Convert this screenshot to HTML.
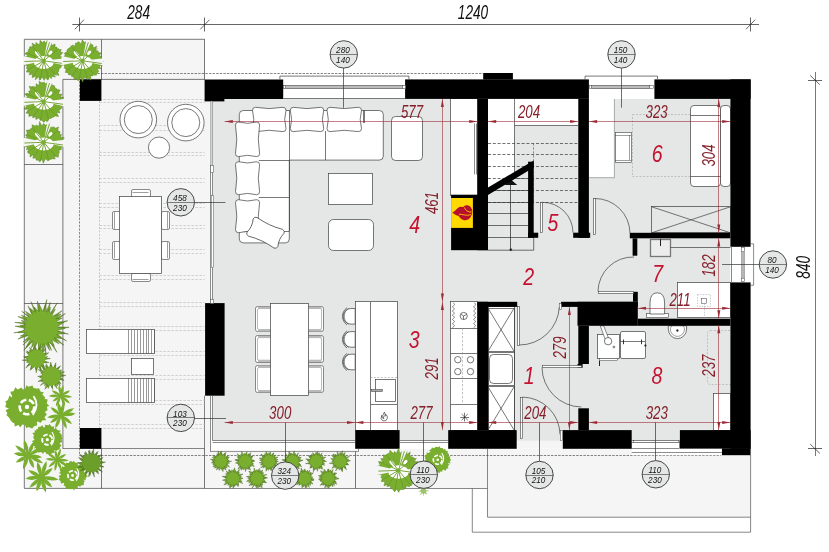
<!DOCTYPE html><html><head><meta charset="utf-8"><title>plan</title><style>html,body{margin:0;padding:0;background:#fff}svg{display:block;will-change:transform}</style></head><body><svg width="829" height="552" viewBox="0 0 829 552" font-family="'Liberation Sans', Arial, sans-serif">
<rect x="0.0" y="0.0" width="829.0" height="552.0" fill="#fff" />
<rect x="24.3" y="39.3" width="180.6" height="449.1" fill="#f5f5f5" />
<path d="M204.9 39.3 H24.3 V488.4 H204.9" fill="none" stroke="#404040" stroke-width="0.7" />
<rect x="204.9" y="448.8" width="282.6" height="39.6" fill="#f5f5f5" />
<path d="M487.5 448.8 H750.6 V517.2 H487.5 Z" fill="#f5f5f5" stroke="none" stroke-width="0.7" />
<rect x="516.7" y="439.4" width="46.1" height="9.4" fill="#f5f5f5" />
<path d="M472.3 488.4 V532.2 H750.6 V455" fill="none" stroke="#555" stroke-width="0.7" />
<path d="M487.5 448.8 V517.2 H750.6" fill="none" stroke="#555" stroke-width="0.7" />
<line x1="204.9" y1="488.5" x2="487.5" y2="488.5" stroke="#555" stroke-width="0.7"/>
<line x1="101.5" y1="39.3" x2="101.5" y2="79.4" stroke="#404040" stroke-width="0.7"/>
<path d="M62.9 448.8 V79.4 H204.9" fill="none" stroke="#404040" stroke-width="0.7" />
<line x1="24.3" y1="164.5" x2="62.9" y2="164.5" stroke="#404040" stroke-width="0.7"/>
<line x1="24.3" y1="303.5" x2="62.9" y2="303.5" stroke="#404040" stroke-width="0.7"/>
<line x1="62.9" y1="448.5" x2="204.9" y2="448.5" stroke="#555" stroke-width="0.7"/>
<line x1="101.5" y1="448.8" x2="101.5" y2="488.4" stroke="#404040" stroke-width="0.7"/>
<line x1="204.5" y1="39.3" x2="204.5" y2="79.4" stroke="#404040" stroke-width="0.7"/>
<line x1="204.5" y1="395.7" x2="204.5" y2="488.4" stroke="#404040" stroke-width="0.7"/>
<line x1="355.5" y1="448.8" x2="355.5" y2="488.4" stroke="#404040" stroke-width="0.7"/>
<line x1="79.4" y1="73.5" x2="483.0" y2="73.5" stroke="#333" stroke-width="0.6" stroke-dasharray="2.4 1.2"/>
<line x1="79.5" y1="73.6" x2="79.5" y2="455.4" stroke="#444" stroke-width="0.6" stroke-dasharray="2.4 1.2"/>
<line x1="79.4" y1="455.5" x2="721.0" y2="455.5" stroke="#333" stroke-width="0.6" stroke-dasharray="2.4 1.2"/>
<line x1="99.5" y1="100.9" x2="99.5" y2="428.0" stroke="#999" stroke-width="0.5" stroke-dasharray="2 1.5"/>
<line x1="99.4" y1="99.5" x2="204.9" y2="99.5" stroke="#aaa" stroke-width="0.5" stroke-dasharray="2.5 1.5"/>
<line x1="99.4" y1="102.5" x2="204.9" y2="102.5" stroke="#aaa" stroke-width="0.5" stroke-dasharray="2.5 1.5"/>
<line x1="99.4" y1="125.5" x2="204.9" y2="125.5" stroke="#aaa" stroke-width="0.5" stroke-dasharray="2.5 1.5"/>
<line x1="99.4" y1="130.5" x2="204.9" y2="130.5" stroke="#aaa" stroke-width="0.5" stroke-dasharray="2.5 1.5"/>
<line x1="99.4" y1="152.5" x2="204.9" y2="152.5" stroke="#aaa" stroke-width="0.5" stroke-dasharray="2.5 1.5"/>
<line x1="99.4" y1="155.5" x2="204.9" y2="155.5" stroke="#aaa" stroke-width="0.5" stroke-dasharray="2.5 1.5"/>
<line x1="99.4" y1="178.5" x2="204.9" y2="178.5" stroke="#aaa" stroke-width="0.5" stroke-dasharray="2.5 1.5"/>
<line x1="99.4" y1="182.5" x2="204.9" y2="182.5" stroke="#aaa" stroke-width="0.5" stroke-dasharray="2.5 1.5"/>
<line x1="99.4" y1="203.5" x2="204.9" y2="203.5" stroke="#aaa" stroke-width="0.5" stroke-dasharray="2.5 1.5"/>
<line x1="99.4" y1="207.5" x2="204.9" y2="207.5" stroke="#aaa" stroke-width="0.5" stroke-dasharray="2.5 1.5"/>
<line x1="99.4" y1="225.5" x2="204.9" y2="225.5" stroke="#aaa" stroke-width="0.5" stroke-dasharray="2.5 1.5"/>
<line x1="99.4" y1="228.5" x2="204.9" y2="228.5" stroke="#aaa" stroke-width="0.5" stroke-dasharray="2.5 1.5"/>
<line x1="99.4" y1="249.5" x2="204.9" y2="249.5" stroke="#aaa" stroke-width="0.5" stroke-dasharray="2.5 1.5"/>
<line x1="99.4" y1="253.5" x2="204.9" y2="253.5" stroke="#aaa" stroke-width="0.5" stroke-dasharray="2.5 1.5"/>
<line x1="99.4" y1="275.5" x2="204.9" y2="275.5" stroke="#aaa" stroke-width="0.5" stroke-dasharray="2.5 1.5"/>
<line x1="99.4" y1="279.5" x2="204.9" y2="279.5" stroke="#aaa" stroke-width="0.5" stroke-dasharray="2.5 1.5"/>
<line x1="99.4" y1="302.5" x2="204.9" y2="302.5" stroke="#aaa" stroke-width="0.5" stroke-dasharray="2.5 1.5"/>
<line x1="99.4" y1="306.5" x2="204.9" y2="306.5" stroke="#aaa" stroke-width="0.5" stroke-dasharray="2.5 1.5"/>
<line x1="99.4" y1="326.5" x2="204.9" y2="326.5" stroke="#aaa" stroke-width="0.5" stroke-dasharray="2.5 1.5"/>
<line x1="99.4" y1="330.5" x2="204.9" y2="330.5" stroke="#aaa" stroke-width="0.5" stroke-dasharray="2.5 1.5"/>
<line x1="99.4" y1="351.5" x2="204.9" y2="351.5" stroke="#aaa" stroke-width="0.5" stroke-dasharray="2.5 1.5"/>
<line x1="99.4" y1="355.5" x2="204.9" y2="355.5" stroke="#aaa" stroke-width="0.5" stroke-dasharray="2.5 1.5"/>
<line x1="99.4" y1="375.5" x2="204.9" y2="375.5" stroke="#aaa" stroke-width="0.5" stroke-dasharray="2.5 1.5"/>
<line x1="99.4" y1="379.5" x2="204.9" y2="379.5" stroke="#aaa" stroke-width="0.5" stroke-dasharray="2.5 1.5"/>
<line x1="99.4" y1="400.5" x2="204.9" y2="400.5" stroke="#aaa" stroke-width="0.5" stroke-dasharray="2.5 1.5"/>
<line x1="99.4" y1="404.5" x2="204.9" y2="404.5" stroke="#aaa" stroke-width="0.5" stroke-dasharray="2.5 1.5"/>
<line x1="99.4" y1="424.5" x2="204.9" y2="424.5" stroke="#aaa" stroke-width="0.5" stroke-dasharray="2.5 1.5"/>
<line x1="99.4" y1="428.5" x2="204.9" y2="428.5" stroke="#aaa" stroke-width="0.5" stroke-dasharray="2.5 1.5"/>
<rect x="204.9" y="100.9" width="5.2" height="202.2" fill="#f5f5f5" />
<rect x="204.9" y="395.7" width="5.2" height="53.1" fill="#f5f5f5" />
<rect x="212.7" y="98.9" width="517.7" height="341.8" fill="#e5e7e7" />
<rect x="210.1" y="440.7" width="148.4" height="10.7" fill="#fff" />
<path d="M488 98.9 H578.3 V125.2 H514.3 V175 L488 190.5 Z" fill="#fff" stroke="none" stroke-width="0.7" />
<rect x="450.5" y="98.5" width="27.0" height="97.0" fill="#fff" stroke="#3e3e3e" stroke-width="0.7" />
<rect x="588.9" y="98.9" width="25.5" height="78.8" fill="#fff" />
<path d="M614.4 98.9 V177.7 H588.9" fill="none" stroke="#777" stroke-width="0.6" />
<rect x="450.5" y="301.5" width="27.0" height="129.0" fill="#fff" stroke="#3e3e3e" stroke-width="0.7" />
<rect x="488.5" y="306.5" width="26.0" height="124.0" fill="#fff" stroke="#3e3e3e" stroke-width="0.7" />
<rect x="355.5" y="301.5" width="42.0" height="129.0" fill="#fff" stroke="#3e3e3e" stroke-width="0.7" />
<rect x="283.2" y="76.1" width="121.9" height="22.8" fill="#fff" />
<rect x="588.9" y="76.1" width="65.5" height="22.8" fill="#fff" />
<rect x="631.7" y="440.0" width="48.2" height="8.8" fill="#fff" />
<rect x="730.4" y="246.8" width="20.2" height="35.6" fill="#fff" />
<rect x="399.6" y="440.7" width="48.6" height="8.1" fill="#fff" />
<circle cx="138.3" cy="119.6" r="18.3" fill="#fff" stroke="#3e3e3e" stroke-width="0.7"/>
<circle cx="138.3" cy="119.6" r="14.0" fill="#fff" stroke="#3e3e3e" stroke-width="0.7"/>
<circle cx="185.8" cy="122.6" r="18.3" fill="#fff" stroke="#3e3e3e" stroke-width="0.7"/>
<circle cx="185.8" cy="122.6" r="14.0" fill="#fff" stroke="#3e3e3e" stroke-width="0.7"/>
<circle cx="159.0" cy="147.6" r="10.6" fill="#fff" stroke="#3e3e3e" stroke-width="0.7"/>
<rect x="131.5" y="189.5" width="19.0" height="8.0" fill="#fff" stroke="#3e3e3e" stroke-width="0.6" rx="1.5" />
<rect x="131.5" y="273.5" width="19.0" height="8.0" fill="#fff" stroke="#3e3e3e" stroke-width="0.6" rx="1.5" />
<rect x="112.5" y="211.5" width="8.0" height="18.0" fill="#fff" stroke="#3e3e3e" stroke-width="0.6" rx="1.5" />
<rect x="161.5" y="211.5" width="8.0" height="18.0" fill="#fff" stroke="#3e3e3e" stroke-width="0.6" rx="1.5" />
<line x1="114.5" y1="212.2" x2="114.5" y2="228.7" stroke="#3e3e3e" stroke-width="0.5"/>
<line x1="167.5" y1="212.2" x2="167.5" y2="228.7" stroke="#3e3e3e" stroke-width="0.5"/>
<rect x="112.5" y="241.5" width="8.0" height="18.0" fill="#fff" stroke="#3e3e3e" stroke-width="0.6" rx="1.5" />
<rect x="161.5" y="241.5" width="8.0" height="18.0" fill="#fff" stroke="#3e3e3e" stroke-width="0.6" rx="1.5" />
<line x1="114.5" y1="242.1" x2="114.5" y2="258.3" stroke="#3e3e3e" stroke-width="0.5"/>
<line x1="167.5" y1="242.1" x2="167.5" y2="258.3" stroke="#3e3e3e" stroke-width="0.5"/>
<line x1="132.5" y1="192.5" x2="148.5" y2="192.5" stroke="#3e3e3e" stroke-width="0.5"/>
<line x1="132.5" y1="279.5" x2="148.5" y2="279.5" stroke="#3e3e3e" stroke-width="0.5"/>
<rect x="119.5" y="196.5" width="42.0" height="77.0" fill="#fff" stroke="#3e3e3e" stroke-width="0.7" />
<rect x="86.5" y="329.5" width="68.0" height="24.0" fill="#fff" stroke="#3e3e3e" stroke-width="0.7" />
<line x1="128.5" y1="329.7" x2="128.5" y2="353.8" stroke="#555" stroke-width="0.6"/>
<line x1="131.5" y1="329.7" x2="131.5" y2="353.8" stroke="#555" stroke-width="0.6"/>
<line x1="134.5" y1="329.7" x2="134.5" y2="353.8" stroke="#555" stroke-width="0.6"/>
<line x1="137.5" y1="329.7" x2="137.5" y2="353.8" stroke="#555" stroke-width="0.6"/>
<line x1="140.5" y1="329.7" x2="140.5" y2="353.8" stroke="#555" stroke-width="0.6"/>
<line x1="143.5" y1="329.7" x2="143.5" y2="353.8" stroke="#555" stroke-width="0.6"/>
<line x1="146.5" y1="329.7" x2="146.5" y2="353.8" stroke="#555" stroke-width="0.6"/>
<line x1="148.5" y1="329.7" x2="148.5" y2="353.8" stroke="#555" stroke-width="0.6"/>
<line x1="151.5" y1="329.7" x2="151.5" y2="353.8" stroke="#555" stroke-width="0.6"/>
<line x1="154.5" y1="329.7" x2="154.5" y2="353.8" stroke="#555" stroke-width="0.6"/>
<rect x="86.5" y="378.5" width="68.0" height="24.0" fill="#fff" stroke="#3e3e3e" stroke-width="0.7" />
<line x1="128.5" y1="378.4" x2="128.5" y2="402.7" stroke="#555" stroke-width="0.6"/>
<line x1="131.5" y1="378.4" x2="131.5" y2="402.7" stroke="#555" stroke-width="0.6"/>
<line x1="134.5" y1="378.4" x2="134.5" y2="402.7" stroke="#555" stroke-width="0.6"/>
<line x1="137.5" y1="378.4" x2="137.5" y2="402.7" stroke="#555" stroke-width="0.6"/>
<line x1="140.5" y1="378.4" x2="140.5" y2="402.7" stroke="#555" stroke-width="0.6"/>
<line x1="143.5" y1="378.4" x2="143.5" y2="402.7" stroke="#555" stroke-width="0.6"/>
<line x1="146.5" y1="378.4" x2="146.5" y2="402.7" stroke="#555" stroke-width="0.6"/>
<line x1="148.5" y1="378.4" x2="148.5" y2="402.7" stroke="#555" stroke-width="0.6"/>
<line x1="151.5" y1="378.4" x2="151.5" y2="402.7" stroke="#555" stroke-width="0.6"/>
<line x1="154.5" y1="378.4" x2="154.5" y2="402.7" stroke="#555" stroke-width="0.6"/>
<rect x="131.5" y="358.5" width="22.0" height="16.0" fill="#fff" stroke="#3e3e3e" stroke-width="0.7" />
<path d="M243.3 110.5 H379.3 Q383.3 110.5 383.3 114.5 V156.1 Q383.3 160.1 379.3 160.1 H289.3 V238.9 Q289.3 242.9 285.3 242.9 H243.3 Q239.3 242.9 239.3 238.9 V114.5 Q239.3 110.5 243.3 110.5 Z" fill="#fff" stroke="#3e3e3e" stroke-width="0.7" />
<line x1="289.5" y1="110.5" x2="289.5" y2="231.0" stroke="#3e3e3e" stroke-width="0.7"/>
<line x1="325.5" y1="131.0" x2="325.5" y2="160.1" stroke="#3e3e3e" stroke-width="0.7"/>
<line x1="363.5" y1="110.5" x2="363.5" y2="123.0" stroke="#3e3e3e" stroke-width="0.7"/>
<line x1="364.5" y1="110.5" x2="364.5" y2="123.0" stroke="#3e3e3e" stroke-width="0.7"/>
<line x1="258.8" y1="160.5" x2="289.3" y2="160.5" stroke="#3e3e3e" stroke-width="0.7"/>
<line x1="258.8" y1="197.5" x2="289.3" y2="197.5" stroke="#3e3e3e" stroke-width="0.7"/>
<line x1="239.3" y1="231.5" x2="289.3" y2="231.5" stroke="#3e3e3e" stroke-width="0.7"/>
<path d="M255.5 107.3 Q269.2 109.9 283.0 107.3 Q286.0 107.3 286.0 110.3 Q283.4 119.4 286.0 128.6 Q286.0 131.6 283.0 131.6 Q269.2 129.0 255.5 131.6 Q252.5 131.6 252.5 128.6 Q255.1 119.4 252.5 110.3 Q252.5 107.3 255.5 107.3 Z" fill="#fff" stroke="#3e3e3e" stroke-width="0.7" />
<path d="M293.3 107.3 Q307.0 109.9 320.7 107.3 Q323.7 107.3 323.7 110.3 Q321.1 119.4 323.7 128.6 Q323.7 131.6 320.7 131.6 Q307.0 129.0 293.3 131.6 Q290.3 131.6 290.3 128.6 Q292.9 119.4 290.3 110.3 Q290.3 107.3 293.3 107.3 Z" fill="#fff" stroke="#3e3e3e" stroke-width="0.7" />
<path d="M330.0 107.3 Q344.2 109.9 358.5 107.3 Q361.5 107.3 361.5 110.3 Q358.9 119.4 361.5 128.6 Q361.5 131.6 358.5 131.6 Q344.2 129.0 330.0 131.6 Q327.0 131.6 327.0 128.6 Q329.6 119.4 327.0 110.3 Q327.0 107.3 330.0 107.3 Z" fill="#fff" stroke="#3e3e3e" stroke-width="0.7" />
<path d="M238.5 122.0 Q247.6 124.6 256.6 122.0 Q259.6 122.0 259.6 125.0 Q257.0 139.3 259.6 153.6 Q259.6 156.6 256.6 156.6 Q247.6 154.0 238.5 156.6 Q235.5 156.6 235.5 153.6 Q238.1 139.3 235.5 125.0 Q235.5 122.0 238.5 122.0 Z" fill="#fff" stroke="#3e3e3e" stroke-width="0.7" />
<path d="M238.5 161.7 Q247.6 164.3 256.6 161.7 Q259.6 161.7 259.6 164.7 Q257.0 178.2 259.6 191.7 Q259.6 194.7 256.6 194.7 Q247.6 192.1 238.5 194.7 Q235.5 194.7 235.5 191.7 Q238.1 178.2 235.5 164.7 Q235.5 161.7 238.5 161.7 Z" fill="#fff" stroke="#3e3e3e" stroke-width="0.7" />
<path d="M238.5 199.7 Q247.6 202.3 256.6 199.7 Q259.6 199.7 259.6 202.7 Q257.0 216.2 259.6 229.7 Q259.6 232.7 256.6 232.7 Q247.6 230.1 238.5 232.7 Q235.5 232.7 235.5 229.7 Q238.1 216.2 235.5 202.7 Q235.5 199.7 238.5 199.7 Z" fill="#fff" stroke="#3e3e3e" stroke-width="0.7" />
<path d="M251.5 222.5 Q265.5 225.1 279.5 222.5 Q282.5 222.5 282.5 225.5 Q279.9 232.8 282.5 240.0 Q282.5 243.0 279.5 243.0 Q265.5 240.4 251.5 243.0 Q248.5 243.0 248.5 240.0 Q251.1 232.8 248.5 225.5 Q248.5 222.5 251.5 222.5 Z" fill="#fff" stroke="#3e3e3e" stroke-width="0.7" transform="rotate(25 265.5 232.8)"/>
<rect x="391.5" y="116.5" width="31.0" height="44.0" fill="#fff" stroke="#3e3e3e" stroke-width="0.7" rx="4" />
<rect x="328.5" y="173.5" width="44.0" height="31.0" fill="#fff" stroke="#3e3e3e" stroke-width="0.7" />
<rect x="328.5" y="219.5" width="45.0" height="31.0" fill="#fff" stroke="#3e3e3e" stroke-width="0.7" rx="5" />
<rect x="255.5" y="306.5" width="20.0" height="25.0" fill="#fff" stroke="#3e3e3e" stroke-width="0.6" rx="2" />
<rect x="257.5" y="308.5" width="18.0" height="21.0" fill="#fff" stroke="#777" stroke-width="0.5" rx="1.5" />
<rect x="305.5" y="306.5" width="18.0" height="25.0" fill="#fff" stroke="#3e3e3e" stroke-width="0.6" rx="2" />
<rect x="305.5" y="308.5" width="16.0" height="21.0" fill="#fff" stroke="#777" stroke-width="0.5" rx="1.5" />
<rect x="258.0" y="306.7" width="13.0" height="2.2" fill="#b9b9b9" />
<rect x="309.0" y="306.7" width="12.5" height="2.2" fill="#b9b9b9" />
<rect x="258.0" y="329.3" width="13.0" height="2.2" fill="#b9b9b9" />
<rect x="309.0" y="329.3" width="12.5" height="2.2" fill="#b9b9b9" />
<rect x="255.5" y="335.5" width="20.0" height="27.0" fill="#fff" stroke="#3e3e3e" stroke-width="0.6" rx="2" />
<rect x="257.5" y="337.5" width="18.0" height="23.0" fill="#fff" stroke="#777" stroke-width="0.5" rx="1.5" />
<rect x="305.5" y="335.5" width="18.0" height="27.0" fill="#fff" stroke="#3e3e3e" stroke-width="0.6" rx="2" />
<rect x="305.5" y="337.5" width="16.0" height="23.0" fill="#fff" stroke="#777" stroke-width="0.5" rx="1.5" />
<rect x="258.0" y="335.9" width="13.0" height="2.2" fill="#b9b9b9" />
<rect x="309.0" y="335.9" width="12.5" height="2.2" fill="#b9b9b9" />
<rect x="258.0" y="359.7" width="13.0" height="2.2" fill="#b9b9b9" />
<rect x="309.0" y="359.7" width="12.5" height="2.2" fill="#b9b9b9" />
<rect x="255.5" y="365.5" width="20.0" height="27.0" fill="#fff" stroke="#3e3e3e" stroke-width="0.6" rx="2" />
<rect x="257.5" y="367.5" width="18.0" height="23.0" fill="#fff" stroke="#777" stroke-width="0.5" rx="1.5" />
<rect x="305.5" y="365.5" width="18.0" height="27.0" fill="#fff" stroke="#3e3e3e" stroke-width="0.6" rx="2" />
<rect x="305.5" y="367.5" width="16.0" height="23.0" fill="#fff" stroke="#777" stroke-width="0.5" rx="1.5" />
<rect x="258.0" y="365.5" width="13.0" height="2.2" fill="#b9b9b9" />
<rect x="309.0" y="365.5" width="12.5" height="2.2" fill="#b9b9b9" />
<rect x="258.0" y="390.1" width="13.0" height="2.2" fill="#b9b9b9" />
<rect x="309.0" y="390.1" width="12.5" height="2.2" fill="#b9b9b9" />
<rect x="270.5" y="303.5" width="38.0" height="92.0" fill="#fff" stroke="#3e3e3e" stroke-width="0.7" />
<path d="M355.2 308.5 H351 A7.8 7.8 0 0 0 351 324.1 H355.2 Z" fill="#fff" stroke="#3e3e3e" stroke-width="0.7"/>
<path d="M347 307.7 A10.5 10.5 0 0 0 347 324.9" fill="none" stroke="#3e3e3e" stroke-width="0.7"/>
<path d="M348.6 308.3 A9.5 9.5 0 0 0 348.6 324.3" fill="none" stroke="#3e3e3e" stroke-width="0.6"/>
<path d="M355.2 331.6 H351 A7.8 7.8 0 0 0 351 347.2 H355.2 Z" fill="#fff" stroke="#3e3e3e" stroke-width="0.7"/>
<path d="M347 330.8 A10.5 10.5 0 0 0 347 348.0" fill="none" stroke="#3e3e3e" stroke-width="0.7"/>
<path d="M348.6 331.4 A9.5 9.5 0 0 0 348.6 347.4" fill="none" stroke="#3e3e3e" stroke-width="0.6"/>
<path d="M355.2 354.2 H351 A7.8 7.8 0 0 0 351 369.8 H355.2 Z" fill="#fff" stroke="#3e3e3e" stroke-width="0.7"/>
<path d="M347 353.4 A10.5 10.5 0 0 0 347 370.6" fill="none" stroke="#3e3e3e" stroke-width="0.7"/>
<path d="M348.6 354.0 A9.5 9.5 0 0 0 348.6 370.0" fill="none" stroke="#3e3e3e" stroke-width="0.6"/>
<line x1="370.5" y1="301.8" x2="370.5" y2="430.1" stroke="#3e3e3e" stroke-width="0.7"/>
<line x1="370.4" y1="377.5" x2="397.8" y2="377.5" stroke="#888" stroke-width="0.5" stroke-dasharray="2 1.5"/>
<rect x="375.5" y="379.5" width="20.0" height="22.0" fill="#fff" stroke="#3e3e3e" stroke-width="0.7" />
<rect x="371.5" y="389.5" width="11.0" height="2.0" fill="#aaa" stroke="#333" stroke-width="0.5" />
<line x1="370.4" y1="404.5" x2="397.8" y2="404.5" stroke="#777" stroke-width="1.0"/>
<line x1="450.7" y1="328.5" x2="477.4" y2="328.5" stroke="#3e3e3e" stroke-width="0.7"/>
<line x1="450.7" y1="353.5" x2="477.4" y2="353.5" stroke="#3e3e3e" stroke-width="0.7"/>
<line x1="450.7" y1="378.5" x2="477.4" y2="378.5" stroke="#3e3e3e" stroke-width="0.7"/>
<line x1="450.7" y1="404.5" x2="477.4" y2="404.5" stroke="#3e3e3e" stroke-width="0.7"/>
<line x1="462.5" y1="328.0" x2="462.5" y2="404.0" stroke="#888" stroke-width="0.5" stroke-dasharray="2.5 1.5"/>
<circle cx="457.8" cy="359.7" r="3.2" fill="#fff" stroke="#3e3e3e" stroke-width="0.7"/>
<circle cx="457.8" cy="371.6" r="3.2" fill="#fff" stroke="#3e3e3e" stroke-width="0.7"/>
<circle cx="470.5" cy="359.7" r="3.2" fill="#fff" stroke="#3e3e3e" stroke-width="0.7"/>
<circle cx="470.5" cy="371.6" r="3.2" fill="#fff" stroke="#3e3e3e" stroke-width="0.7"/>
<path d="M453.3 302.6 L454.6 304.7 L452.3 306.8 L454.6 308.9 L452.3 311.0 L454.6 313.1 L452.3 315.2 L454.6 317.3 L452.3 319.4 L454.6 321.5 L452.3 323.6 L454.6 325.7 L452.3 327.8" fill="none" stroke="#3e3e3e" stroke-width="0.6" />
<path d="M474.5 302.6 L475.8 304.7 L473.5 306.8 L475.8 308.9 L473.5 311.0 L475.8 313.1 L473.5 315.2 L475.8 317.3 L473.5 319.4 L475.8 321.5 L473.5 323.6 L475.8 325.7 L473.5 327.8" fill="none" stroke="#3e3e3e" stroke-width="0.6" />
<circle cx="463.7" cy="316.0" r="3.6" fill="none" stroke="#3e3e3e" stroke-width="0.7"/>
<line x1="463.5" y1="316.0" x2="463.5" y2="319.4" stroke="#3e3e3e" stroke-width="0.7"/>
<line x1="463.7" y1="316.0" x2="460.8" y2="314.3" stroke="#3e3e3e" stroke-width="0.7"/>
<line x1="463.7" y1="316.0" x2="466.6" y2="314.3" stroke="#3e3e3e" stroke-width="0.7"/>
<line x1="460.3" y1="417.5" x2="469.1" y2="417.5" stroke="#222" stroke-width="0.6"/>
<line x1="461.6" y1="414.0" x2="467.8" y2="420.2" stroke="#222" stroke-width="0.6"/>
<line x1="464.5" y1="412.7" x2="464.5" y2="421.5" stroke="#222" stroke-width="0.6"/>
<line x1="467.8" y1="414.0" x2="461.6" y2="420.2" stroke="#222" stroke-width="0.6"/>
<path d="M384.4 412.1 q-3 3.5 -0.5 6.5 q-2.6 -0.4 -2.2 -3.2 q-1.8 3.8 1.4 5.6 q3.4 0.6 4.2 -2.6 q0.6 -2.6 -1.6 -4.2 q0.2 1.6 -0.9 2.2 q0.9 -2.4 -0.4 -4.3 Z" fill="none" stroke="#222" stroke-width="0.6" />
<rect x="488.5" y="308.5" width="26.0" height="43.0" fill="none" stroke="#3e3e3e" stroke-width="0.7" />
<line x1="488.0" y1="308.2" x2="514.1" y2="351.3" stroke="#3e3e3e" stroke-width="0.7"/>
<line x1="514.1" y1="308.2" x2="488.0" y2="351.3" stroke="#3e3e3e" stroke-width="0.7"/>
<rect x="489.5" y="354.5" width="23.0" height="29.0" fill="#fff" stroke="#3e3e3e" stroke-width="0.7" rx="4" />
<rect x="488.5" y="352.5" width="26.0" height="33.0" fill="none" stroke="#3e3e3e" stroke-width="0.7" />
<rect x="488.5" y="386.5" width="26.0" height="44.0" fill="none" stroke="#3e3e3e" stroke-width="0.7" />
<line x1="488.0" y1="386.8" x2="514.1" y2="430.1" stroke="#3e3e3e" stroke-width="0.7"/>
<line x1="514.1" y1="386.8" x2="488.0" y2="430.1" stroke="#3e3e3e" stroke-width="0.7"/>
<line x1="474.5" y1="123.5" x2="474.5" y2="174.4" stroke="#404040" stroke-width="0.6"/>
<line x1="476.5" y1="123.5" x2="476.5" y2="174.4" stroke="#404040" stroke-width="0.6"/>
<line x1="488.0" y1="143.5" x2="578.3" y2="143.5" stroke="#333" stroke-width="0.7" stroke-dasharray="3 1.8"/>
<line x1="488.0" y1="154.5" x2="578.3" y2="154.5" stroke="#333" stroke-width="0.7" stroke-dasharray="3 1.8"/>
<line x1="488.0" y1="166.5" x2="578.3" y2="166.5" stroke="#333" stroke-width="0.7" stroke-dasharray="3 1.8"/>
<line x1="488.0" y1="178.5" x2="578.3" y2="178.5" stroke="#333" stroke-width="0.7" stroke-dasharray="3 1.8"/>
<line x1="488.0" y1="190.5" x2="578.3" y2="190.5" stroke="#333" stroke-width="0.7" stroke-dasharray="3 1.8"/>
<line x1="488.0" y1="202.5" x2="578.3" y2="202.5" stroke="#333" stroke-width="0.7" stroke-dasharray="3 1.8"/>
<line x1="533.5" y1="143.2" x2="533.5" y2="202.3" stroke="#555" stroke-width="0.6" stroke-dasharray="2.5 1.5"/>
<line x1="488.0" y1="190.5" x2="528.1" y2="190.5" stroke="#333" stroke-width="0.7"/>
<line x1="488.0" y1="202.5" x2="528.1" y2="202.5" stroke="#333" stroke-width="0.7"/>
<line x1="488.0" y1="213.5" x2="528.1" y2="213.5" stroke="#333" stroke-width="0.7"/>
<line x1="488.0" y1="225.5" x2="528.1" y2="225.5" stroke="#333" stroke-width="0.7"/>
<line x1="488.0" y1="237.5" x2="528.1" y2="237.5" stroke="#333" stroke-width="0.7"/>
<path d="M488 250.2 H533.7 V237.8" fill="none" stroke="#333" stroke-width="0.7" />
<line x1="514.5" y1="98.9" x2="514.5" y2="178.4" stroke="#444" stroke-width="0.7"/>
<line x1="514.3" y1="178.5" x2="533.7" y2="178.5" stroke="#444" stroke-width="0.7"/>
<line x1="514.3" y1="125.5" x2="578.3" y2="125.5" stroke="#444" stroke-width="0.7"/>
<line x1="510.5" y1="182.0" x2="510.5" y2="250.2" stroke="#222" stroke-width="0.7"/>
<circle cx="510.8" cy="249.7" r="1.1" fill="#222" stroke="#222" stroke-width="0.3"/>
<path d="M510.9 179.6 L517.2 184.9 H504.6 Z" fill="#111" stroke="none" stroke-width="0.7" />
<rect x="632.5" y="114.5" width="68.0" height="62.0" fill="none" stroke="#999" stroke-width="0.5" stroke-dasharray="2 1.5"/>
<rect x="615.5" y="132.5" width="16.0" height="30.0" fill="#fff" stroke="#3e3e3e" stroke-width="0.6" />
<line x1="615.0" y1="135.5" x2="631.0" y2="135.5" stroke="#3e3e3e" stroke-width="0.5"/>
<line x1="615.0" y1="160.5" x2="631.0" y2="160.5" stroke="#3e3e3e" stroke-width="0.5"/>
<line x1="629.5" y1="135.0" x2="629.5" y2="160.0" stroke="#3e3e3e" stroke-width="0.5"/>
<rect x="690.5" y="105.5" width="30.0" height="81.0" fill="#fff" stroke="#3e3e3e" stroke-width="0.7" rx="3.5" />
<rect x="720.5" y="105.5" width="10.0" height="81.0" fill="#fff" stroke="#3e3e3e" stroke-width="0.7" rx="3.5" />
<line x1="690.6" y1="115.5" x2="720.8" y2="115.5" stroke="#3e3e3e" stroke-width="0.7"/>
<line x1="690.6" y1="176.5" x2="720.8" y2="176.5" stroke="#3e3e3e" stroke-width="0.7"/>
<rect x="651.5" y="206.5" width="79.0" height="26.0" fill="none" stroke="#3e3e3e" stroke-width="0.7" />
<line x1="651.7" y1="206.8" x2="730.4" y2="232.8" stroke="#3e3e3e" stroke-width="0.7"/>
<line x1="651.7" y1="232.8" x2="730.4" y2="206.8" stroke="#3e3e3e" stroke-width="0.7"/>
<rect x="650.5" y="239.5" width="20.0" height="17.0" fill="#ececec" stroke="#777" stroke-width="1.3" />
<line x1="660.5" y1="239.1" x2="660.5" y2="246.0" stroke="#222" stroke-width="1"/>
<line x1="670.4" y1="247.5" x2="730.4" y2="247.5" stroke="#3e3e3e" stroke-width="0.7"/>
<rect x="677.5" y="282.5" width="53.0" height="35.0" fill="#fff" stroke="#3e3e3e" stroke-width="0.7" />
<rect x="697.5" y="294.5" width="13.0" height="12.0" fill="none" stroke="#999" stroke-width="0.5" stroke-dasharray="1.5 1.2"/>
<rect x="701.5" y="298.5" width="5.0" height="5.0" fill="#fff" stroke="#3e3e3e" stroke-width="0.5" />
<line x1="704.5" y1="303.5" x2="704.5" y2="317.5" stroke="#999" stroke-width="0.5" stroke-dasharray="1.5 1.2"/>
<rect x="646.5" y="313.5" width="22.0" height="4.0" fill="#fff" stroke="#3e3e3e" stroke-width="0.6" />
<path d="M650 314 V303 Q650 292.8 657.3 292.8 Q664.6 292.8 664.6 303 V314 Z" fill="#fff" stroke="#3e3e3e" stroke-width="0.7" />
<path d="M668.3 325.8 V329 A9.15 9.6 0 0 0 686.6 329 V325.8 Z" fill="#fff" stroke="#3e3e3e" stroke-width="0.7" />
<path d="M670.3 329 A7.1 7.4 0 0 0 684.5 329 A7.1 5 0 0 0 670.3 329" fill="none" stroke="#3e3e3e" stroke-width="0.5" />
<circle cx="677.4" cy="330.5" r="1.0" fill="#222" stroke="#222" stroke-width="0.3"/>
<rect x="707.5" y="330.5" width="28.0" height="54.0" fill="none" stroke="#999" stroke-width="0.5" rx="3" stroke-dasharray="2 1.5"/>
<rect x="713.5" y="393.5" width="17.0" height="37.0" fill="#fff" stroke="#3e3e3e" stroke-width="0.7" />
<rect x="597.5" y="334.5" width="22.0" height="24.0" fill="#fff" stroke="#3e3e3e" stroke-width="0.7" />
<path d="M600.3 325.8 L605.2 339.5 L608.6 338.2 L603.6 325.8 Z" fill="#fff" stroke="#3e3e3e" stroke-width="0.6" />
<circle cx="608.1" cy="341.2" r="3.7" fill="#fff" stroke="#3e3e3e" stroke-width="0.7"/>
<circle cx="613.9" cy="347.0" r="0.9" fill="#fff" stroke="#3e3e3e" stroke-width="0.7"/>
<rect x="599.5" y="358.5" width="18.0" height="2.0" fill="#fff" stroke="#3e3e3e" stroke-width="0.5" />
<line x1="599.5" y1="360.7" x2="599.5" y2="366.0" stroke="#222" stroke-width="1.0"/>
<rect x="620.5" y="331.5" width="25.0" height="27.0" fill="#fff" stroke="#3e3e3e" stroke-width="0.7" rx="1.5" />
<line x1="620.0" y1="341.5" x2="645.0" y2="341.5" stroke="#3e3e3e" stroke-width="0.7"/>
<line x1="623.5" y1="339.5" x2="623.5" y2="344.2" stroke="#222" stroke-width="0.9"/>
<line x1="641.5" y1="339.5" x2="641.5" y2="344.2" stroke="#222" stroke-width="0.9"/>
<circle cx="645.4" cy="345.5" r="0.9" fill="#222" stroke="#222" stroke-width="0.3"/>
<rect x="79.9" y="79.4" width="21.5" height="21.5" fill="#000" />
<rect x="79.9" y="428.0" width="21.5" height="20.8" fill="#000" />
<rect x="204.6" y="79.5" width="78.6" height="19.5" fill="#000" />
<rect x="204.6" y="99.0" width="19.8" height="2.4" fill="#000" />
<rect x="405.1" y="79.4" width="183.8" height="19.5" fill="#000" />
<rect x="483.2" y="73.0" width="29.7" height="6.6" fill="#000" />
<rect x="654.4" y="79.4" width="96.2" height="19.5" fill="#000" />
<rect x="730.4" y="79.4" width="20.2" height="167.4" fill="#000" />
<rect x="730.4" y="282.4" width="20.2" height="166.4" fill="#000" />
<rect x="721.8" y="448.7" width="28.8" height="6.5" fill="#000" />
<rect x="477.4" y="98.9" width="10.6" height="151.3" fill="#000" />
<rect x="451.1" y="194.7" width="36.9" height="55.5" fill="#000" />
<rect x="578.3" y="98.9" width="10.6" height="138.9" fill="#000" />
<rect x="573.2" y="232.7" width="17.0" height="5.1" fill="#000" />
<rect x="528.1" y="161.7" width="5.6" height="76.1" fill="#000" />
<rect x="528.1" y="232.7" width="10.1" height="5.1" fill="#000" />
<path d="M488 187.5 L533.7 160.5 V167.5 L488 195 Z" fill="#000" stroke="none" stroke-width="0.7" />
<rect x="205.1" y="303.1" width="19.5" height="92.6" fill="#000" />
<rect x="355.2" y="430.1" width="44.4" height="18.7" fill="#000" />
<rect x="448.2" y="430.1" width="68.5" height="18.7" fill="#000" />
<rect x="562.8" y="430.1" width="68.9" height="18.7" fill="#000" />
<rect x="679.9" y="430.1" width="70.7" height="18.7" fill="#000" />
<rect x="477.4" y="301.8" width="10.6" height="128.3" fill="#000" />
<rect x="477.4" y="301.8" width="39.8" height="5.1" fill="#000" />
<rect x="629.8" y="232.8" width="100.6" height="5.5" fill="#000" />
<rect x="632.6" y="238.3" width="4.7" height="17.4" fill="#000" />
<rect x="561.0" y="301.8" width="76.8" height="5.1" fill="#000" />
<rect x="577.5" y="301.8" width="60.3" height="24.0" fill="#000" />
<rect x="633.0" y="291.8" width="4.8" height="10.0" fill="#000" />
<rect x="637.8" y="318.7" width="92.6" height="7.1" fill="#000" />
<rect x="578.3" y="325.8" width="10.6" height="38.2" fill="#000" />
<rect x="577.5" y="364.0" width="5.1" height="3.8" fill="#000" />
<rect x="578.3" y="408.3" width="10.6" height="21.8" fill="#000" />
<rect x="451.1" y="198.0" width="21.8" height="29.9" fill="#ffd800" />
<path d="M452.3 212.4 C455 211.5 456.5 208.5 459.5 207 C461.5 206 462.5 207.5 463.2 207 C464.5 205.2 467.5 204.6 469.5 206 C472 207.8 472.8 211 472 213.5 C471.5 217 469 220 465.5 220.3 C462.5 220.5 459.5 218 458.5 215.8 C456.5 215.5 454.5 214 452.3 212.4 Z" fill="#b8102a" stroke="none" stroke-width="0.7" />
<path d="M464.5 207.5 C465 210 468 212.5 471.8 212 M459 214.3 C463 214 466 216.4 471 214.6" fill="none" stroke="#ffd800" stroke-width="0.8" />
<path d="M279.9 79.4 V76.1 H408.9 V79.4" fill="none" stroke="#3e3e3e" stroke-width="0.7" />
<rect x="283.5" y="85.5" width="120.0" height="3.0" fill="#bdbdbd" stroke="#444" stroke-width="0.6" />
<rect x="283.5" y="85.5" width="2.0" height="3.0" fill="#fff" stroke="#444" stroke-width="0.5" />
<rect x="402.5" y="85.5" width="3.0" height="3.0" fill="#fff" stroke="#444" stroke-width="0.5" />
<line x1="283.2" y1="98.5" x2="405.1" y2="98.5" stroke="#3e3e3e" stroke-width="0.7"/>
<path d="M585.1 79.4 V76.1 H657.5 V79.4" fill="none" stroke="#3e3e3e" stroke-width="0.7" />
<rect x="591.5" y="85.5" width="58.0" height="3.0" fill="#bdbdbd" stroke="#444" stroke-width="0.6" />
<rect x="649.5" y="85.5" width="4.0" height="3.0" fill="#fff" stroke="#444" stroke-width="0.5" />
<rect x="589.5" y="85.5" width="2.0" height="3.0" fill="#fff" stroke="#444" stroke-width="0.5" />
<line x1="210.5" y1="100.9" x2="210.5" y2="303.1" stroke="#3e3e3e" stroke-width="0.6"/>
<line x1="212.5" y1="100.9" x2="212.5" y2="303.1" stroke="#3e3e3e" stroke-width="0.6"/>
<line x1="210.5" y1="395.7" x2="210.5" y2="451.4" stroke="#3e3e3e" stroke-width="0.6"/>
<line x1="212.5" y1="395.7" x2="212.5" y2="440.7" stroke="#3e3e3e" stroke-width="0.6"/>
<rect x="210.5" y="165.5" width="3.0" height="7.0" fill="#fff" stroke="#444" stroke-width="0.5" />
<rect x="210.5" y="299.5" width="3.0" height="4.0" fill="#fff" stroke="#444" stroke-width="0.5" />
<rect x="210.4" y="101.4" width="2.0" height="63.6" fill="#d4d4d4" />
<rect x="211.5" y="195.5" width="2.0" height="72.0" fill="#fff" stroke="#555" stroke-width="0.5" />
<line x1="212.7" y1="440.5" x2="355.2" y2="440.5" stroke="#3e3e3e" stroke-width="0.6"/>
<line x1="212.7" y1="442.5" x2="355.2" y2="442.5" stroke="#3e3e3e" stroke-width="0.6"/>
<path d="M210.1 451.4 H358.5 V448.8" fill="none" stroke="#3e3e3e" stroke-width="0.6" />
<line x1="399.6" y1="440.5" x2="448.2" y2="440.5" stroke="#3e3e3e" stroke-width="0.6"/>
<line x1="399.6" y1="442.5" x2="448.2" y2="442.5" stroke="#3e3e3e" stroke-width="0.6"/>
<rect x="631.7" y="448.8" width="90.1" height="6.4" fill="#fff" />
<rect x="631.5" y="440.5" width="48.0" height="8.0" fill="none" stroke="#3e3e3e" stroke-width="0.6" />
<line x1="631.7" y1="442.5" x2="679.9" y2="442.5" stroke="#3e3e3e" stroke-width="0.6"/>
<line x1="631.7" y1="452.5" x2="721.8" y2="452.5" stroke="#3e3e3e" stroke-width="0.6"/>
<rect x="633.5" y="440.5" width="45.0" height="2.0" fill="#fff" stroke="#3e3e3e" stroke-width="0.5" />
<path d="M750.6 243.8 H753.6 V285.3 H750.6" fill="none" stroke="#3e3e3e" stroke-width="0.6" />
<line x1="731.5" y1="246.8" x2="731.5" y2="282.4" stroke="#888" stroke-width="1.0"/>
<rect x="741.5" y="247.5" width="3.0" height="34.0" fill="#b5b5b5" stroke="#666" stroke-width="0.4" />
<rect x="741.5" y="247.5" width="3.0" height="4.0" fill="#fff" stroke="#444" stroke-width="0.4" />
<rect x="741.5" y="278.5" width="3.0" height="3.0" fill="#fff" stroke="#444" stroke-width="0.4" />
<rect x="540.5" y="202.5" width="2.0" height="30.0" fill="#fff" stroke="#3e3e3e" stroke-width="0.6" />
<path d="M542.6 202.3 A30.4 30.4 0 0 1 573 232.7" fill="none" stroke="#3e3e3e" stroke-width="0.7" />
<rect x="593.5" y="198.5" width="2.0" height="36.0" fill="#fff" stroke="#3e3e3e" stroke-width="0.6" />
<path d="M595 198.5 A35 35 0 0 1 630 233" fill="none" stroke="#3e3e3e" stroke-width="0.7" />
<rect x="598.5" y="291.5" width="35.0" height="2.0" fill="#fff" stroke="#3e3e3e" stroke-width="0.6" />
<path d="M598 291.2 A35 35 0 0 1 634 257" fill="none" stroke="#3e3e3e" stroke-width="0.7" />
<rect x="517.5" y="306.5" width="2.0" height="39.0" fill="#fff" stroke="#3e3e3e" stroke-width="0.6" />
<path d="M519.2 345 A40 40 0 0 0 559.3 306.9" fill="none" stroke="#3e3e3e" stroke-width="0.7" />
<rect x="559.5" y="303.5" width="2.0" height="6.0" fill="#fff" stroke="#3e3e3e" stroke-width="0.5" />
<rect x="542.5" y="365.5" width="39.0" height="2.0" fill="#fff" stroke="#3e3e3e" stroke-width="0.6" />
<path d="M542 367.5 A40 40 0 0 0 581.3 407" fill="none" stroke="#3e3e3e" stroke-width="0.7" />
<rect x="520.5" y="397.5" width="2.0" height="41.0" fill="#fff" stroke="#3e3e3e" stroke-width="0.6" />
<path d="M522.3 397.1 A38 38 0 0 1 560 434.4" fill="none" stroke="#3e3e3e" stroke-width="0.7" />
<rect x="560.5" y="430.5" width="2.0" height="10.0" fill="#fff" stroke="#3e3e3e" stroke-width="0.5" />
<line x1="224.6" y1="121.5" x2="477.4" y2="121.5" stroke="#9c2a35" stroke-width="0.6"/>
<path d="M0 0 L-8.2 -1.5 L-8.2 1.5 Z" fill="#9c2a35" transform="translate(224.6,121.6) rotate(180)"/>
<path d="M0 0 L-8.2 -1.5 L-8.2 1.5 Z" fill="#9c2a35" transform="translate(477.4,121.6) rotate(0)"/>
<line x1="488.0" y1="121.5" x2="578.3" y2="121.5" stroke="#9c2a35" stroke-width="0.6"/>
<path d="M0 0 L-8.2 -1.5 L-8.2 1.5 Z" fill="#9c2a35" transform="translate(488.0,121.6) rotate(180)"/>
<path d="M0 0 L-8.2 -1.5 L-8.2 1.5 Z" fill="#9c2a35" transform="translate(578.3,121.6) rotate(0)"/>
<line x1="588.9" y1="121.5" x2="730.4" y2="121.5" stroke="#9c2a35" stroke-width="0.6"/>
<path d="M0 0 L-8.2 -1.5 L-8.2 1.5 Z" fill="#9c2a35" transform="translate(588.9,121.6) rotate(180)"/>
<path d="M0 0 L-8.2 -1.5 L-8.2 1.5 Z" fill="#9c2a35" transform="translate(730.4,121.6) rotate(0)"/>
<line x1="442.5" y1="98.9" x2="442.5" y2="301.8" stroke="#9c2a35" stroke-width="0.6"/>
<path d="M0 0 L-8.2 -1.5 L-8.2 1.5 Z" fill="#9c2a35" transform="translate(442.4,98.9) rotate(-90)"/>
<path d="M0 0 L-8.2 -1.5 L-8.2 1.5 Z" fill="#9c2a35" transform="translate(442.4,301.8) rotate(90)"/>
<line x1="442.5" y1="301.8" x2="442.5" y2="430.1" stroke="#9c2a35" stroke-width="0.6"/>
<path d="M0 0 L-8.2 -1.5 L-8.2 1.5 Z" fill="#9c2a35" transform="translate(442.4,301.8) rotate(-90)"/>
<path d="M0 0 L-8.2 -1.5 L-8.2 1.5 Z" fill="#9c2a35" transform="translate(442.4,430.1) rotate(90)"/>
<line x1="224.6" y1="422.5" x2="355.2" y2="422.5" stroke="#9c2a35" stroke-width="0.6"/>
<path d="M0 0 L-8.2 -1.5 L-8.2 1.5 Z" fill="#9c2a35" transform="translate(224.6,422.5) rotate(180)"/>
<path d="M0 0 L-8.2 -1.5 L-8.2 1.5 Z" fill="#9c2a35" transform="translate(355.2,422.5) rotate(0)"/>
<line x1="355.2" y1="422.5" x2="477.4" y2="422.5" stroke="#9c2a35" stroke-width="0.6"/>
<path d="M0 0 L-8.2 -1.5 L-8.2 1.5 Z" fill="#9c2a35" transform="translate(355.2,422.5) rotate(180)"/>
<path d="M0 0 L-8.2 -1.5 L-8.2 1.5 Z" fill="#9c2a35" transform="translate(477.4,422.5) rotate(0)"/>
<line x1="488.0" y1="422.5" x2="578.3" y2="422.5" stroke="#9c2a35" stroke-width="0.6"/>
<path d="M0 0 L-8.2 -1.5 L-8.2 1.5 Z" fill="#9c2a35" transform="translate(488.0,422.5) rotate(180)"/>
<path d="M0 0 L-8.2 -1.5 L-8.2 1.5 Z" fill="#9c2a35" transform="translate(578.3,422.5) rotate(0)"/>
<line x1="588.9" y1="422.5" x2="730.4" y2="422.5" stroke="#9c2a35" stroke-width="0.6"/>
<path d="M0 0 L-8.2 -1.5 L-8.2 1.5 Z" fill="#9c2a35" transform="translate(588.9,422.5) rotate(180)"/>
<path d="M0 0 L-8.2 -1.5 L-8.2 1.5 Z" fill="#9c2a35" transform="translate(730.4,422.5) rotate(0)"/>
<line x1="569.5" y1="306.9" x2="569.5" y2="430.1" stroke="#9c2a35" stroke-width="0.6"/>
<path d="M0 0 L-8.2 -1.5 L-8.2 1.5 Z" fill="#9c2a35" transform="translate(569.4,306.9) rotate(-90)"/>
<path d="M0 0 L-8.2 -1.5 L-8.2 1.5 Z" fill="#9c2a35" transform="translate(569.4,430.1) rotate(90)"/>
<line x1="718.5" y1="98.9" x2="718.5" y2="232.8" stroke="#9c2a35" stroke-width="0.6"/>
<path d="M0 0 L-8.2 -1.5 L-8.2 1.5 Z" fill="#9c2a35" transform="translate(718.8,98.9) rotate(-90)"/>
<path d="M0 0 L-8.2 -1.5 L-8.2 1.5 Z" fill="#9c2a35" transform="translate(718.8,232.8) rotate(90)"/>
<line x1="718.5" y1="238.3" x2="718.5" y2="318.5" stroke="#9c2a35" stroke-width="0.6"/>
<path d="M0 0 L-8.2 -1.5 L-8.2 1.5 Z" fill="#9c2a35" transform="translate(718.8,238.3) rotate(-90)"/>
<path d="M0 0 L-8.2 -1.5 L-8.2 1.5 Z" fill="#9c2a35" transform="translate(718.8,318.5) rotate(90)"/>
<line x1="718.5" y1="325.0" x2="718.5" y2="430.1" stroke="#9c2a35" stroke-width="0.6"/>
<path d="M0 0 L-8.2 -1.5 L-8.2 1.5 Z" fill="#9c2a35" transform="translate(718.8,325.0) rotate(-90)"/>
<path d="M0 0 L-8.2 -1.5 L-8.2 1.5 Z" fill="#9c2a35" transform="translate(718.8,430.1) rotate(90)"/>
<line x1="637.8" y1="308.5" x2="730.4" y2="308.5" stroke="#9c2a35" stroke-width="0.6"/>
<path d="M0 0 L-8.2 -1.5 L-8.2 1.5 Z" fill="#9c2a35" transform="translate(637.8,308.3) rotate(180)"/>
<path d="M0 0 L-8.2 -1.5 L-8.2 1.5 Z" fill="#9c2a35" transform="translate(730.4,308.3) rotate(0)"/>
<text transform="translate(412.0,117.9) scale(0.7,1)" font-size="19" fill="#85202b" text-anchor="middle" font-style="italic" font-weight="normal">577</text>
<text transform="translate(529.0,117.9) scale(0.7,1)" font-size="19" fill="#85202b" text-anchor="middle" font-style="italic" font-weight="normal">204</text>
<text transform="translate(656.6,117.9) scale(0.7,1)" font-size="19" fill="#85202b" text-anchor="middle" font-style="italic" font-weight="normal">323</text>
<text transform="translate(280.2,419.2) scale(0.7,1)" font-size="19" fill="#85202b" text-anchor="middle" font-style="italic" font-weight="normal">300</text>
<text transform="translate(421.5,419.2) scale(0.7,1)" font-size="19" fill="#85202b" text-anchor="middle" font-style="italic" font-weight="normal">277</text>
<text transform="translate(535.4,419.2) scale(0.7,1)" font-size="19" fill="#85202b" text-anchor="middle" font-style="italic" font-weight="normal">204</text>
<text transform="translate(656.8,419.2) scale(0.7,1)" font-size="19" fill="#85202b" text-anchor="middle" font-style="italic" font-weight="normal">323</text>
<text transform="translate(680.0,305.6) scale(0.7,1)" font-size="19" fill="#85202b" text-anchor="middle" font-style="italic" font-weight="normal">211</text>
<text transform="translate(438.3,203.0) rotate(-90) scale(0.7,1)" font-size="19" fill="#85202b" text-anchor="middle" font-style="italic" font-weight="normal">461</text>
<text transform="translate(438.3,368.4) rotate(-90) scale(0.7,1)" font-size="19" fill="#85202b" text-anchor="middle" font-style="italic" font-weight="normal">291</text>
<text transform="translate(566.1,347.5) rotate(-90) scale(0.7,1)" font-size="19" fill="#85202b" text-anchor="middle" font-style="italic" font-weight="normal">279</text>
<text transform="translate(714.6,155.5) rotate(-90) scale(0.7,1)" font-size="19" fill="#85202b" text-anchor="middle" font-style="italic" font-weight="normal">304</text>
<text transform="translate(714.6,365.6) rotate(-90) scale(0.7,1)" font-size="19" fill="#85202b" text-anchor="middle" font-style="italic" font-weight="normal">237</text>
<text transform="translate(714.6,265.5) rotate(-90) scale(0.7,1)" font-size="19" fill="#85202b" text-anchor="middle" font-style="italic" font-weight="normal">182</text>
<text transform="translate(414.7,232.6) scale(0.85,1)" font-size="23" fill="#c4122f" text-anchor="middle" font-style="italic" font-weight="normal">4</text>
<text transform="translate(414.3,347.5) scale(0.85,1)" font-size="23" fill="#c4122f" text-anchor="middle" font-style="italic" font-weight="normal">3</text>
<text transform="translate(528.6,285.4) scale(0.85,1)" font-size="23" fill="#c4122f" text-anchor="middle" font-style="italic" font-weight="normal">2</text>
<text transform="translate(529.3,384.3) scale(0.85,1)" font-size="23" fill="#c4122f" text-anchor="middle" font-style="italic" font-weight="normal">1</text>
<text transform="translate(553.0,231.4) scale(0.85,1)" font-size="23" fill="#c4122f" text-anchor="middle" font-style="italic" font-weight="normal">5</text>
<text transform="translate(657.3,162.2) scale(0.85,1)" font-size="23" fill="#c4122f" text-anchor="middle" font-style="italic" font-weight="normal">6</text>
<text transform="translate(657.7,282.1) scale(0.85,1)" font-size="23" fill="#c4122f" text-anchor="middle" font-style="italic" font-weight="normal">7</text>
<text transform="translate(657.0,383.5) scale(0.85,1)" font-size="23" fill="#c4122f" text-anchor="middle" font-style="italic" font-weight="normal">8</text>
<line x1="72.3" y1="24.5" x2="759.0" y2="24.5" stroke="#222" stroke-width="0.7"/>
<line x1="79.5" y1="17.5" x2="79.5" y2="31.5" stroke="#222" stroke-width="0.7"/>
<line x1="74.8" y1="29.3" x2="84.0" y2="19.7" stroke="#222" stroke-width="0.7"/>
<line x1="204.5" y1="17.5" x2="204.5" y2="31.5" stroke="#222" stroke-width="0.7"/>
<line x1="200.3" y1="29.3" x2="209.5" y2="19.7" stroke="#222" stroke-width="0.7"/>
<line x1="750.5" y1="17.5" x2="750.5" y2="31.5" stroke="#222" stroke-width="0.7"/>
<line x1="746.0" y1="29.3" x2="755.2" y2="19.7" stroke="#222" stroke-width="0.7"/>
<line x1="815.5" y1="72.0" x2="815.5" y2="456.0" stroke="#777" stroke-width="1.0"/>
<line x1="808.0" y1="80.5" x2="822.0" y2="80.5" stroke="#222" stroke-width="0.7"/>
<line x1="810.2" y1="75.4" x2="819.8" y2="84.6" stroke="#222" stroke-width="0.7"/>
<line x1="808.0" y1="448.5" x2="822.0" y2="448.5" stroke="#222" stroke-width="0.7"/>
<line x1="810.2" y1="444.1" x2="819.8" y2="453.3" stroke="#222" stroke-width="0.7"/>
<text transform="translate(138.6,19.4) scale(0.69,1)" font-size="19.8" fill="#111" text-anchor="middle" font-style="italic" font-weight="normal">284</text>
<text transform="translate(473.0,19.4) scale(0.69,1)" font-size="19.8" fill="#111" text-anchor="middle" font-style="italic" font-weight="normal">1240</text>
<text transform="translate(810.2,267.3) rotate(-90) scale(0.69,1)" font-size="19.8" fill="#111" text-anchor="middle" font-style="italic" font-weight="normal">840</text>
<path d="M64.7 60.3 L60.6 62.7 L63.1 64.6 L61.4 66.3 L60.9 67.4 L59.0 69.3 L58.8 71.2 L57.9 72.3 L59.0 75.6 L53.8 73.6 L55.3 77.1 L51.6 76.3 L51.6 78.7 L49.1 76.8 L47.7 80.2 L45.7 77.6 L44.1 80.5 L42.4 77.0 L39.5 80.3 L38.8 76.8 L35.2 79.9 L36.1 76.1 L32.2 77.7 L32.4 74.0 L29.1 74.9 L30.1 72.3 L26.2 72.0 L28.0 69.2 L26.5 68.5 L27.1 65.6 L24.3 65.1 L25.8 62.4 L24.2 60.9 L25.5 59.0 L24.7 57.0 L28.2 56.1 L24.7 53.5 L28.3 51.9 L28.1 50.5 L29.1 48.8 L29.9 46.5 L33.4 47.5 L32.0 43.1 L35.6 45.3 L35.9 42.5 L39.5 45.1 L40.1 40.3 L42.4 42.6 L44.2 40.9 L45.6 43.5 L47.4 40.1 L48.7 44.8 L51.4 42.6 L51.8 45.6 L55.1 44.0 L55.0 47.3 L56.8 47.0 L57.4 49.2 L61.3 49.6 L60.3 52.4 L63.0 52.5 L59.6 56.2 L61.6 56.7 L60.7 59.4 Z" fill="#79ae2e" stroke="#4f741f" stroke-width="0.4"/>
<path d="M43.8 60.8 L22.9 65.2 L23.0 56.0 Z" fill="#f5f5f5"/>
<path d="M43.8 60.8 L65.0 58.2 L64.6 65.6 Z" fill="#f5f5f5"/>
<path d="M43.8 60.8 L47.5 39.7 L52.5 41.3 Z" fill="#f5f5f5"/>
<ellipse cx="43.8" cy="62.4" rx="9.9" ry="6.5" fill="#fff"/>
<ellipse cx="37.7" cy="54.0" rx="3.6" ry="1.6" fill="#fff" transform="rotate(228 37.7 54.0)"/>
<ellipse cx="50.4" cy="52.9" rx="2.6" ry="1.6" fill="#fff" transform="rotate(-50 50.4 52.9)"/>
<path d="M43.8 60.8 L24.4 61.5" stroke="#6a9c28" stroke-width="0.9" fill="none"/>
<path d="M43.8 60.8 L63.0 63.5" stroke="#6a9c28" stroke-width="0.9" fill="none"/>
<path d="M43.8 60.8 L49.5 42.2" stroke="#6a9c28" stroke-width="0.9" fill="none"/>
<path d="M43.8 60.8 L26.2 52.6" stroke="#6a9c28" stroke-width="0.9" fill="none"/>
<path d="M43.8 60.8 L27.0 70.5" stroke="#6a9c28" stroke-width="0.9" fill="none"/>
<path d="M43.8 60.8 L32.7 76.7" stroke="#6a9c28" stroke-width="0.9" fill="none"/>
<path d="M43.8 60.8 L40.4 79.9" stroke="#6a9c28" stroke-width="0.9" fill="none"/>
<path d="M43.8 60.8 L48.8 79.5" stroke="#6a9c28" stroke-width="0.9" fill="none"/>
<path d="M43.8 60.8 L56.3 75.7" stroke="#6a9c28" stroke-width="0.9" fill="none"/>
<path d="M43.8 60.8 L31.9 45.5" stroke="#6a9c28" stroke-width="0.9" fill="none"/>
<path d="M43.8 60.8 L58.7 48.3" stroke="#6a9c28" stroke-width="0.9" fill="none"/>
<circle cx="43.8" cy="60.8" r="2.0" fill="#79ae2e"/>
<path d="M103.8 61.4 L99.0 62.0 L102.7 65.2 L98.9 65.9 L101.2 68.6 L97.3 68.7 L98.8 71.5 L97.1 73.1 L96.3 75.3 L93.4 73.9 L93.2 75.7 L90.7 75.9 L90.8 80.2 L87.7 77.8 L86.4 78.7 L84.4 77.3 L82.6 82.2 L80.8 77.4 L78.1 81.0 L76.9 78.7 L74.4 79.8 L73.8 77.6 L71.8 76.1 L70.8 74.7 L68.6 74.9 L68.1 72.7 L65.3 72.4 L66.2 69.8 L64.2 67.9 L64.6 66.2 L63.2 64.4 L65.6 62.8 L63.9 60.6 L65.8 58.7 L63.9 56.6 L65.3 55.0 L64.3 53.2 L66.9 52.2 L66.8 50.5 L68.0 48.8 L69.6 47.7 L71.3 46.5 L72.5 44.9 L75.1 46.2 L75.5 43.1 L76.9 43.0 L78.3 41.4 L81.3 43.9 L82.2 39.8 L84.3 42.6 L85.9 41.7 L87.5 43.4 L90.2 41.0 L90.8 44.5 L92.7 44.7 L93.4 48.1 L96.8 46.1 L95.2 50.4 L98.4 50.9 L97.5 52.3 L101.7 53.1 L98.9 55.4 L101.7 56.4 L100.8 59.3 Z" fill="#79ae2e" stroke="#4f741f" stroke-width="0.4"/>
<path d="M82.6 60.8 L61.7 65.2 L61.8 56.0 Z" fill="#f5f5f5"/>
<path d="M82.6 60.8 L103.8 58.2 L103.4 65.6 Z" fill="#f5f5f5"/>
<path d="M82.6 60.8 L86.3 39.7 L91.3 41.3 Z" fill="#f5f5f5"/>
<ellipse cx="82.6" cy="62.4" rx="9.9" ry="6.5" fill="#fff"/>
<ellipse cx="76.5" cy="54.0" rx="3.6" ry="1.6" fill="#fff" transform="rotate(228 76.5 54.0)"/>
<ellipse cx="89.2" cy="52.9" rx="2.6" ry="1.6" fill="#fff" transform="rotate(-50 89.2 52.9)"/>
<path d="M82.6 60.8 L63.2 61.5" stroke="#6a9c28" stroke-width="0.9" fill="none"/>
<path d="M82.6 60.8 L101.8 63.5" stroke="#6a9c28" stroke-width="0.9" fill="none"/>
<path d="M82.6 60.8 L88.3 42.2" stroke="#6a9c28" stroke-width="0.9" fill="none"/>
<path d="M82.6 60.8 L65.0 52.6" stroke="#6a9c28" stroke-width="0.9" fill="none"/>
<path d="M82.6 60.8 L65.8 70.5" stroke="#6a9c28" stroke-width="0.9" fill="none"/>
<path d="M82.6 60.8 L71.5 76.7" stroke="#6a9c28" stroke-width="0.9" fill="none"/>
<path d="M82.6 60.8 L79.2 79.9" stroke="#6a9c28" stroke-width="0.9" fill="none"/>
<path d="M82.6 60.8 L87.6 79.5" stroke="#6a9c28" stroke-width="0.9" fill="none"/>
<path d="M82.6 60.8 L95.1 75.7" stroke="#6a9c28" stroke-width="0.9" fill="none"/>
<path d="M82.6 60.8 L70.7 45.5" stroke="#6a9c28" stroke-width="0.9" fill="none"/>
<path d="M82.6 60.8 L97.5 48.3" stroke="#6a9c28" stroke-width="0.9" fill="none"/>
<circle cx="82.6" cy="60.8" r="2.0" fill="#79ae2e"/>
<path d="M63.7 101.3 L61.6 103.2 L61.8 105.3 L61.7 106.5 L61.4 108.6 L59.0 110.3 L60.0 112.9 L56.6 112.3 L58.5 116.5 L55.4 115.8 L53.9 117.0 L52.0 117.5 L51.0 118.4 L48.5 118.5 L47.6 122.2 L45.4 120.3 L43.9 122.4 L42.0 120.4 L39.8 119.7 L39.3 117.8 L35.8 119.5 L35.6 116.6 L33.0 117.8 L32.6 115.5 L28.8 116.4 L29.1 113.4 L25.8 113.1 L29.0 109.3 L24.0 109.3 L26.6 106.4 L25.2 105.1 L26.0 103.0 L25.4 101.8 L24.9 99.3 L23.4 98.0 L27.9 96.9 L24.6 93.9 L29.6 93.6 L28.6 91.3 L30.7 90.6 L29.1 86.2 L31.7 86.9 L33.4 86.4 L36.2 87.2 L36.0 83.7 L39.1 85.6 L39.2 81.2 L41.7 82.8 L44.3 82.2 L45.5 84.0 L47.9 81.9 L49.1 84.4 L51.9 83.5 L52.3 85.5 L54.2 85.5 L55.4 88.3 L56.7 88.7 L57.5 90.2 L60.2 89.9 L58.3 94.0 L62.1 94.2 L60.3 96.8 L64.0 97.8 L60.1 99.5 Z" fill="#79ae2e" stroke="#4f741f" stroke-width="0.4"/>
<path d="M43.8 101.6 L22.9 106.0 L23.0 96.8 Z" fill="#f5f5f5"/>
<path d="M43.8 101.6 L65.0 99.0 L64.6 106.4 Z" fill="#f5f5f5"/>
<path d="M43.8 101.6 L47.5 80.5 L52.5 82.1 Z" fill="#f5f5f5"/>
<ellipse cx="43.8" cy="103.2" rx="9.9" ry="6.5" fill="#fff"/>
<ellipse cx="37.7" cy="94.8" rx="3.6" ry="1.6" fill="#fff" transform="rotate(228 37.7 94.8)"/>
<ellipse cx="50.4" cy="93.7" rx="2.6" ry="1.6" fill="#fff" transform="rotate(-50 50.4 93.7)"/>
<path d="M43.8 101.6 L24.4 102.3" stroke="#6a9c28" stroke-width="0.9" fill="none"/>
<path d="M43.8 101.6 L63.0 104.3" stroke="#6a9c28" stroke-width="0.9" fill="none"/>
<path d="M43.8 101.6 L49.5 83.0" stroke="#6a9c28" stroke-width="0.9" fill="none"/>
<path d="M43.8 101.6 L26.2 93.4" stroke="#6a9c28" stroke-width="0.9" fill="none"/>
<path d="M43.8 101.6 L27.0 111.3" stroke="#6a9c28" stroke-width="0.9" fill="none"/>
<path d="M43.8 101.6 L32.7 117.5" stroke="#6a9c28" stroke-width="0.9" fill="none"/>
<path d="M43.8 101.6 L40.4 120.7" stroke="#6a9c28" stroke-width="0.9" fill="none"/>
<path d="M43.8 101.6 L48.8 120.3" stroke="#6a9c28" stroke-width="0.9" fill="none"/>
<path d="M43.8 101.6 L56.3 116.5" stroke="#6a9c28" stroke-width="0.9" fill="none"/>
<path d="M43.8 101.6 L31.9 86.3" stroke="#6a9c28" stroke-width="0.9" fill="none"/>
<path d="M43.8 101.6 L58.7 89.1" stroke="#6a9c28" stroke-width="0.9" fill="none"/>
<circle cx="43.8" cy="101.6" r="2.0" fill="#79ae2e"/>
<path d="M62.3 142.0 L60.4 143.8 L63.0 145.6 L61.3 148.1 L61.2 149.8 L58.8 150.3 L59.4 152.3 L58.6 154.0 L58.2 157.3 L54.2 155.4 L55.2 159.0 L52.4 158.8 L50.5 159.5 L48.9 159.7 L47.5 160.7 L45.4 158.7 L43.3 163.3 L42.1 159.3 L39.4 161.8 L38.0 160.0 L36.3 160.3 L35.5 157.6 L33.5 158.5 L33.2 154.7 L29.9 157.0 L30.2 153.7 L27.8 153.1 L28.8 149.8 L26.4 149.6 L27.5 147.1 L23.6 146.5 L26.1 144.2 L25.3 141.9 L27.0 141.1 L24.1 138.1 L27.3 137.6 L25.5 135.1 L27.5 134.2 L26.4 130.1 L29.3 130.1 L29.9 129.2 L32.5 127.8 L31.9 124.7 L35.2 125.9 L36.4 125.0 L38.9 126.4 L39.5 121.5 L42.0 126.2 L43.3 123.6 L45.8 125.2 L47.2 124.1 L49.3 125.8 L50.5 125.2 L51.3 127.4 L54.3 126.9 L54.6 128.4 L58.7 127.0 L57.2 130.8 L60.2 131.7 L59.5 134.5 L61.7 134.6 L60.3 136.8 L64.4 137.9 L61.4 140.9 Z" fill="#79ae2e" stroke="#4f741f" stroke-width="0.4"/>
<path d="M43.8 142.3 L22.9 146.7 L23.0 137.5 Z" fill="#f5f5f5"/>
<path d="M43.8 142.3 L65.0 139.7 L64.6 147.1 Z" fill="#f5f5f5"/>
<path d="M43.8 142.3 L47.5 121.2 L52.5 122.8 Z" fill="#f5f5f5"/>
<ellipse cx="43.8" cy="143.9" rx="9.9" ry="6.5" fill="#fff"/>
<ellipse cx="37.7" cy="135.5" rx="3.6" ry="1.6" fill="#fff" transform="rotate(228 37.7 135.5)"/>
<ellipse cx="50.4" cy="134.4" rx="2.6" ry="1.6" fill="#fff" transform="rotate(-50 50.4 134.4)"/>
<path d="M43.8 142.3 L24.4 143.0" stroke="#6a9c28" stroke-width="0.9" fill="none"/>
<path d="M43.8 142.3 L63.0 145.0" stroke="#6a9c28" stroke-width="0.9" fill="none"/>
<path d="M43.8 142.3 L49.5 123.7" stroke="#6a9c28" stroke-width="0.9" fill="none"/>
<path d="M43.8 142.3 L26.2 134.1" stroke="#6a9c28" stroke-width="0.9" fill="none"/>
<path d="M43.8 142.3 L27.0 152.0" stroke="#6a9c28" stroke-width="0.9" fill="none"/>
<path d="M43.8 142.3 L32.7 158.2" stroke="#6a9c28" stroke-width="0.9" fill="none"/>
<path d="M43.8 142.3 L40.4 161.4" stroke="#6a9c28" stroke-width="0.9" fill="none"/>
<path d="M43.8 142.3 L48.8 161.0" stroke="#6a9c28" stroke-width="0.9" fill="none"/>
<path d="M43.8 142.3 L56.3 157.2" stroke="#6a9c28" stroke-width="0.9" fill="none"/>
<path d="M43.8 142.3 L31.9 127.0" stroke="#6a9c28" stroke-width="0.9" fill="none"/>
<path d="M43.8 142.3 L58.7 129.8" stroke="#6a9c28" stroke-width="0.9" fill="none"/>
<circle cx="43.8" cy="142.3" r="2.0" fill="#79ae2e"/>
<path d="M69.1 327.3 L53.7 329.6 L68.4 334.1 L53.3 331.4 L66.6 341.0 L51.8 333.7 L63.9 345.2 L49.1 336.1 L56.9 352.3 L47.3 338.6 L51.6 350.4 L44.5 338.5 L45.9 353.1 L42.5 339.6 L38.6 355.8 L38.8 339.6 L32.0 353.4 L36.4 337.9 L23.8 350.4 L33.1 336.5 L22.9 345.1 L32.7 334.2 L17.9 339.1 L30.5 331.3 L13.8 332.8 L30.4 329.6 L15.0 326.2 L30.0 325.4 L14.7 322.3 L31.0 323.0 L18.0 316.5 L31.8 319.7 L21.6 311.2 L33.9 319.4 L28.0 305.9 L36.3 316.8 L30.9 301.7 L38.3 315.6 L37.4 301.2 L41.4 315.8 L46.8 299.6 L44.6 314.9 L50.3 302.4 L48.0 316.8 L57.2 302.8 L49.2 318.5 L62.0 310.7 L51.0 320.8 L65.4 313.6 L53.2 322.8 L67.7 320.7 L53.9 326.7 Z" fill="#79ae2e" stroke="#3c5a18" stroke-width="0.4"/>
<path d="M65.0 333.5 L56.4 334.4 L61.2 338.5 L53.7 337.4 L59.1 344.0 L51.7 339.8 L54.2 345.9 L47.2 341.2 L49.8 350.5 L44.2 341.5 L43.1 351.3 L41.5 343.0 L38.8 349.9 L38.2 341.4 L31.3 347.8 L33.4 339.8 L26.4 346.7 L31.6 337.3 L23.0 342.0 L30.0 335.3 L20.2 336.1 L27.7 332.5 L18.0 332.7 L27.7 328.4 L20.2 325.4 L28.0 325.4 L21.2 320.5 L28.9 321.7 L21.3 315.2 L30.0 318.2 L25.5 311.3 L33.2 316.3 L30.2 308.5 L35.8 312.5 L34.2 307.0 L39.4 312.4 L38.9 303.7 L43.5 312.7 L45.6 304.3 L46.8 313.9 L50.3 307.2 L49.7 314.8 L55.3 309.1 L51.5 316.6 L61.1 314.0 L55.4 318.8 L62.0 318.0 L55.1 322.5 L63.5 322.7 L56.3 327.2 L65.4 328.2 L56.0 330.8 Z" fill="#79ae2e" stroke="#3c5a18" stroke-width="0.4"/>
<circle cx="41.8" cy="327.5" r="16.2" fill="#79ae2e"/>
<path d="M50.3 358.5 L42.7 360.1 L49.1 362.7 L42.4 362.5 L45.3 369.2 L39.9 364.6 L41.6 371.0 L37.8 365.7 L36.3 372.8 L34.9 365.4 L30.2 370.3 L32.0 362.9 L25.7 368.1 L30.7 361.2 L22.1 360.2 L29.9 359.1 L23.5 356.9 L30.7 355.9 L26.7 350.8 L31.4 353.7 L29.6 347.2 L34.6 352.2 L34.9 346.2 L37.6 351.4 L42.1 345.9 L39.6 352.8 L46.2 348.7 L41.4 354.4 L48.7 352.7 L43.2 357.6 Z" fill="#79ae2e" stroke="#3c5a18" stroke-width="0.4"/>
<path d="M46.4 362.7 L42.5 362.4 L43.8 366.4 L40.6 365.2 L40.9 370.3 L38.5 365.7 L36.2 369.8 L35.5 365.7 L30.8 369.5 L32.0 364.2 L27.3 365.7 L30.3 362.8 L26.3 362.3 L29.2 359.4 L24.2 357.3 L29.5 356.2 L26.1 351.7 L30.4 353.3 L29.1 350.5 L32.6 351.5 L34.3 346.8 L36.1 351.1 L39.5 348.1 L38.7 352.0 L43.5 348.5 L42.0 353.6 L46.0 353.0 L43.7 356.9 L47.6 356.6 L43.7 359.8 Z" fill="#79ae2e" stroke="#3c5a18" stroke-width="0.4"/>
<circle cx="36.5" cy="358.6" r="8.9" fill="#79ae2e"/>
<path d="M65.8 375.3 L58.6 377.7 L64.1 380.4 L57.2 379.3 L60.3 385.7 L55.1 381.6 L57.2 388.6 L52.3 383.1 L52.7 389.4 L50.5 383.4 L45.0 389.2 L47.0 381.8 L40.2 385.4 L45.5 380.4 L38.0 381.6 L44.6 377.3 L37.6 376.4 L44.9 375.0 L38.2 369.5 L45.8 371.4 L41.2 365.6 L47.0 370.3 L46.2 363.8 L49.6 369.2 L50.7 362.1 L52.9 369.3 L55.8 362.7 L54.8 370.2 L60.5 365.7 L57.0 371.5 L64.5 371.9 L58.8 374.9 Z" fill="#79ae2e" stroke="#3c5a18" stroke-width="0.4"/>
<path d="M63.0 379.2 L58.3 379.6 L61.0 383.7 L56.7 382.0 L57.8 385.7 L53.7 383.0 L51.9 387.7 L50.1 384.3 L48.2 388.4 L47.2 382.8 L44.6 385.9 L45.4 380.6 L41.4 382.0 L43.7 378.7 L39.6 377.5 L43.1 374.9 L40.6 373.1 L44.5 371.4 L42.6 367.8 L46.4 370.5 L45.4 365.6 L48.4 368.5 L50.9 364.9 L52.7 368.3 L55.9 364.9 L55.5 369.4 L59.3 366.9 L56.7 370.8 L61.6 369.9 L58.9 373.6 L63.2 375.3 L59.2 376.5 Z" fill="#79ae2e" stroke="#3c5a18" stroke-width="0.4"/>
<circle cx="51.4" cy="376.0" r="9.2" fill="#79ae2e"/>
<path d="M60.9 395.7 Q66.8 399.1 72.2 397.1 Q67.4 393.8 60.9 395.7 Z" fill="#79ae2e"/>
<path d="M60.9 395.7 Q64.1 402.0 69.9 403.4 Q67.6 397.9 60.9 395.7 Z" fill="#79ae2e"/>
<path d="M60.9 395.7 Q60.8 402.4 65.1 406.1 Q65.7 400.4 60.9 395.7 Z" fill="#79ae2e"/>
<path d="M60.9 395.7 Q55.8 400.5 55.9 406.4 Q60.6 402.7 60.9 395.7 Z" fill="#79ae2e"/>
<path d="M60.9 395.7 Q54.8 396.7 52.5 401.5 Q57.8 401.1 60.9 395.7 Z" fill="#79ae2e"/>
<path d="M60.9 395.7 Q54.2 393.2 48.8 396.0 Q54.3 398.5 60.9 395.7 Z" fill="#79ae2e"/>
<path d="M60.9 395.7 Q57.1 390.6 51.7 390.6 Q54.6 395.2 60.9 395.7 Z" fill="#79ae2e"/>
<path d="M60.9 395.7 Q62.4 389.4 59.0 385.1 Q57.2 390.3 60.9 395.7 Z" fill="#79ae2e"/>
<path d="M60.9 395.7 Q64.8 390.7 63.3 385.5 Q59.6 389.5 60.9 395.7 Z" fill="#79ae2e"/>
<path d="M60.9 395.7 Q67.3 395.2 70.1 390.6 Q64.7 390.6 60.9 395.7 Z" fill="#79ae2e"/>
<circle cx="60.9" cy="395.7" r="2.5" fill="#79ae2e"/>
<path d="M60.9 415.2 Q69.4 417.8 75.6 413.7 Q68.7 410.9 60.9 415.2 Z" fill="#79ae2e"/>
<path d="M60.9 415.2 Q64.9 422.7 72.0 424.0 Q69.2 417.3 60.9 415.2 Z" fill="#79ae2e"/>
<path d="M60.9 415.2 Q61.0 424.2 66.8 429.1 Q67.3 421.5 60.9 415.2 Z" fill="#79ae2e"/>
<path d="M60.9 415.2 Q54.6 421.1 55.3 428.3 Q61.0 423.8 60.9 415.2 Z" fill="#79ae2e"/>
<path d="M60.9 415.2 Q52.9 416.7 50.0 423.1 Q56.9 422.3 60.9 415.2 Z" fill="#79ae2e"/>
<path d="M60.9 415.2 Q52.8 412.9 47.2 417.3 Q53.9 419.7 60.9 415.2 Z" fill="#79ae2e"/>
<path d="M60.9 415.2 Q57.3 408.1 50.6 407.3 Q53.1 413.6 60.9 415.2 Z" fill="#79ae2e"/>
<path d="M60.9 415.2 Q62.6 407.2 57.9 402.1 Q55.9 408.8 60.9 415.2 Z" fill="#79ae2e"/>
<path d="M60.9 415.2 Q65.9 409.1 63.9 402.7 Q59.2 407.5 60.9 415.2 Z" fill="#79ae2e"/>
<path d="M60.9 415.2 Q69.8 414.5 74.2 408.3 Q66.6 408.3 60.9 415.2 Z" fill="#79ae2e"/>
<circle cx="60.9" cy="415.2" r="3.3" fill="#79ae2e"/>
<path d="M28.3 455.4 Q35.4 460.1 42.2 457.3 Q36.5 452.8 28.3 455.4 Z" fill="#79ae2e"/>
<path d="M28.3 455.4 Q34.8 463.0 43.2 463.2 Q38.2 456.5 28.3 455.4 Z" fill="#79ae2e"/>
<path d="M28.3 455.4 Q28.0 463.9 33.9 468.2 Q34.7 461.0 28.3 455.4 Z" fill="#79ae2e"/>
<path d="M28.3 455.4 Q22.0 461.7 23.1 469.2 Q28.9 464.3 28.3 455.4 Z" fill="#79ae2e"/>
<path d="M28.3 455.4 Q19.6 456.1 15.8 462.4 Q23.2 462.5 28.3 455.4 Z" fill="#79ae2e"/>
<path d="M28.3 455.4 Q20.8 450.6 13.8 453.4 Q19.8 457.9 28.3 455.4 Z" fill="#79ae2e"/>
<path d="M28.3 455.4 Q23.3 446.9 15.2 445.3 Q18.8 452.7 28.3 455.4 Z" fill="#79ae2e"/>
<path d="M28.3 455.4 Q29.5 445.7 24.1 439.4 Q22.4 447.5 28.3 455.4 Z" fill="#79ae2e"/>
<path d="M28.3 455.4 Q34.5 449.7 33.4 442.6 Q27.7 447.0 28.3 455.4 Z" fill="#79ae2e"/>
<path d="M28.3 455.4 Q37.5 454.4 41.8 447.8 Q33.9 448.0 28.3 455.4 Z" fill="#79ae2e"/>
<circle cx="28.3" cy="455.4" r="3.5" fill="#79ae2e"/>
<path d="M41.3 477.2 Q50.4 482.3 58.8 479.4 Q51.4 474.6 41.3 477.2 Z" fill="#79ae2e"/>
<path d="M41.3 477.2 Q44.6 485.6 52.1 487.2 Q49.9 479.8 41.3 477.2 Z" fill="#79ae2e"/>
<path d="M41.3 477.2 Q40.0 486.7 45.8 492.4 Q47.5 484.5 41.3 477.2 Z" fill="#79ae2e"/>
<path d="M41.3 477.2 Q35.0 483.7 36.6 491.3 Q42.4 486.2 41.3 477.2 Z" fill="#79ae2e"/>
<path d="M41.3 477.2 Q32.1 480.1 29.3 487.7 Q37.3 485.9 41.3 477.2 Z" fill="#79ae2e"/>
<path d="M41.3 477.2 Q32.2 474.0 25.4 478.5 Q32.9 481.8 41.3 477.2 Z" fill="#79ae2e"/>
<path d="M41.3 477.2 Q36.0 470.0 28.3 470.3 Q32.3 476.9 41.3 477.2 Z" fill="#79ae2e"/>
<path d="M41.3 477.2 Q42.9 467.8 37.4 461.8 Q35.3 469.7 41.3 477.2 Z" fill="#79ae2e"/>
<path d="M41.3 477.2 Q47.9 469.6 46.6 461.1 Q40.5 467.1 41.3 477.2 Z" fill="#79ae2e"/>
<path d="M41.3 477.2 Q50.0 475.3 52.8 468.1 Q45.2 469.1 41.3 477.2 Z" fill="#79ae2e"/>
<circle cx="41.3" cy="477.2" r="3.7" fill="#79ae2e"/>
<path d="M57.0 459.8 Q63.3 462.8 68.7 460.5 Q63.6 457.6 57.0 459.8 Z" fill="#79ae2e"/>
<path d="M57.0 459.8 Q61.4 465.5 67.4 465.9 Q64.1 460.9 57.0 459.8 Z" fill="#79ae2e"/>
<path d="M57.0 459.8 Q57.0 466.6 61.5 470.2 Q61.9 464.5 57.0 459.8 Z" fill="#79ae2e"/>
<path d="M57.0 459.8 Q53.2 465.5 54.8 471.1 Q58.4 466.5 57.0 459.8 Z" fill="#79ae2e"/>
<path d="M57.0 459.8 Q50.6 462.0 48.5 467.4 Q54.1 466.0 57.0 459.8 Z" fill="#79ae2e"/>
<path d="M57.0 459.8 Q50.8 456.7 45.5 459.0 Q50.5 462.0 57.0 459.8 Z" fill="#79ae2e"/>
<path d="M57.0 459.8 Q53.2 453.9 47.4 453.1 Q50.2 458.3 57.0 459.8 Z" fill="#79ae2e"/>
<path d="M57.0 459.8 Q58.7 453.9 55.3 449.9 Q53.5 454.8 57.0 459.8 Z" fill="#79ae2e"/>
<path d="M57.0 459.8 Q61.6 454.4 60.8 448.4 Q56.6 452.7 57.0 459.8 Z" fill="#79ae2e"/>
<path d="M57.0 459.8 Q63.4 458.9 66.2 454.1 Q60.6 454.4 57.0 459.8 Z" fill="#79ae2e"/>
<circle cx="57.0" cy="459.8" r="2.5" fill="#79ae2e"/>
<path d="M49.3 406.1 L46.9 406.8 L47.6 410.4 L44.4 411.1 L42.3 414.2 L39.0 411.4 L36.7 413.9 L35.8 409.5 L31.3 408.2 L34.1 404.4 L31.9 402.5 L35.9 400.3 L35.8 397.0 L40.2 397.7 L42.4 395.7 L43.8 398.8 L47.7 399.5 L46.7 403.3 Z" fill="#79ae2e"/>
<path d="M47.0 414.0 L44.4 417.6 L46.4 420.2 L42.7 420.2 L40.3 423.1 L37.6 421.1 L33.2 422.7 L33.4 418.8 L30.0 418.2 L31.3 415.2 L29.5 412.3 L33.2 409.9 L32.9 406.3 L37.2 407.3 L39.2 404.8 L42.4 409.2 L46.2 408.7 L45.2 412.9 Z" fill="#79ae2e"/>
<path d="M38.8 420.8 L36.8 421.9 L37.2 425.3 L33.8 426.6 L32.4 428.5 L28.1 426.9 L26.2 428.3 L25.2 425.3 L20.4 422.6 L23.4 419.5 L21.7 417.3 L24.1 416.0 L25.8 412.2 L28.2 413.3 L30.2 410.7 L33.4 414.2 L37.0 415.5 L36.1 417.8 Z" fill="#79ae2e"/>
<path d="M28.4 419.0 L26.0 420.3 L26.8 424.2 L22.5 424.4 L20.1 427.5 L18.6 424.9 L14.6 426.5 L14.5 423.5 L11.1 421.4 L13.1 418.7 L10.4 414.3 L14.7 413.9 L14.3 410.3 L17.5 411.7 L21.5 409.4 L22.3 412.5 L26.1 411.1 L26.1 416.7 Z" fill="#79ae2e"/>
<path d="M23.4 412.4 L21.7 415.1 L22.6 418.6 L18.4 418.8 L15.8 421.6 L12.8 419.8 L10.9 420.9 L9.2 417.7 L6.4 415.0 L7.4 413.3 L5.5 410.3 L9.4 408.3 L10.8 405.3 L14.5 405.8 L17.3 403.9 L18.9 407.4 L20.9 406.5 L21.6 410.0 Z" fill="#79ae2e"/>
<path d="M22.5 404.5 L19.9 405.7 L21.5 409.4 L17.0 409.4 L16.7 413.3 L13.3 410.8 L9.2 411.7 L8.9 408.5 L5.2 407.1 L6.4 403.0 L5.0 401.8 L7.9 400.1 L9.5 395.6 L11.8 397.4 L14.5 394.3 L17.8 398.1 L21.3 397.6 L20.0 401.8 Z" fill="#79ae2e"/>
<path d="M28.4 395.3 L25.9 398.0 L26.5 401.9 L22.3 402.1 L20.5 405.3 L17.7 403.1 L14.0 404.1 L14.6 400.7 L10.8 399.2 L12.2 396.6 L10.2 391.8 L13.5 391.3 L15.3 387.3 L17.7 389.4 L21.5 387.4 L23.2 390.1 L25.4 389.2 L26.1 393.4 Z" fill="#79ae2e"/>
<path d="M39.1 392.7 L37.2 395.4 L37.8 399.1 L33.1 400.2 L33.1 402.4 L29.2 400.2 L25.1 401.2 L25.3 398.4 L22.1 397.5 L23.2 393.4 L21.4 389.9 L24.9 389.4 L26.4 385.2 L28.3 386.7 L32.6 385.5 L33.5 388.1 L38.0 388.8 L37.0 391.6 Z" fill="#79ae2e"/>
<path d="M45.3 397.7 L43.2 400.1 L42.9 403.2 L39.4 403.8 L38.8 405.4 L35.9 403.6 L31.4 404.9 L30.9 400.8 L28.5 400.6 L29.7 396.2 L28.1 395.1 L31.4 392.2 L30.9 389.5 L35.5 390.5 L38.9 388.0 L40.7 391.7 L43.9 392.2 L42.3 394.2 Z" fill="#79ae2e"/>
<circle cx="27.0" cy="407.0" r="17.6" fill="#79ae2e"/>
<circle cx="27.0" cy="407.0" r="7.3" fill="none" stroke="#fff" stroke-width="2.6" stroke-dasharray="6.5 2.5"/>
<path d="M33.5 396.1 q6.5 8.7 -0.7 18.9" fill="none" stroke="#fff" stroke-width="1.8"/>
<circle cx="27.0" cy="407.0" r="2.2" fill="#fff"/>
<path d="M63.0 437.7 L61.6 439.6 L62.1 442.2 L58.8 443.0 L58.7 444.5 L56.0 443.0 L53.1 443.7 L53.3 441.7 L51.0 441.1 L51.8 438.2 L50.5 435.7 L52.9 435.4 L54.0 432.4 L55.3 433.5 L58.4 432.6 L59.0 434.5 L62.2 434.9 L61.5 436.9 Z" fill="#79ae2e"/>
<path d="M61.4 445.6 L59.9 447.3 L59.7 449.5 L57.2 449.9 L56.8 451.0 L54.8 449.7 L51.6 450.7 L51.3 447.8 L49.6 447.6 L50.4 444.6 L49.3 443.7 L51.6 441.7 L51.3 439.8 L54.5 440.5 L56.9 438.8 L58.2 441.4 L60.4 441.7 L59.3 443.1 Z" fill="#79ae2e"/>
<path d="M56.4 449.0 L54.2 450.8 L54.9 452.5 L51.4 453.5 L49.8 455.9 L48.1 453.8 L46.7 454.4 L45.9 452.4 L43.6 451.8 L44.6 449.3 L43.7 447.1 L45.5 445.9 L45.6 444.0 L48.8 444.6 L50.4 442.7 L52.3 445.0 L55.3 445.4 L54.5 447.8 Z" fill="#79ae2e"/>
<path d="M48.4 447.2 L45.7 449.2 L46.3 452.2 L44.2 451.7 L43.1 453.9 L41.3 452.1 L37.6 452.8 L38.1 451.2 L35.5 449.8 L36.4 447.7 L35.7 445.1 L37.4 444.8 L37.4 442.0 L40.3 443.1 L43.4 441.2 L43.7 442.8 L46.3 442.4 L46.1 445.1 Z" fill="#79ae2e"/>
<path d="M44.9 443.8 L42.8 444.2 L43.6 447.4 L40.5 447.3 L38.6 449.1 L36.9 448.0 L34.0 448.5 L35.0 446.4 L31.4 444.6 L33.2 442.3 L31.8 440.9 L34.6 440.1 L35.1 437.2 L38.0 438.1 L39.4 436.7 L41.2 438.9 L43.4 439.3 L42.7 441.0 Z" fill="#79ae2e"/>
<path d="M44.7 435.9 L43.3 437.6 L43.3 440.7 L41.0 440.4 L39.6 442.0 L37.6 440.9 L34.8 440.8 L34.2 438.5 L33.0 438.2 L34.0 435.3 L32.3 433.1 L34.8 432.5 L34.7 430.1 L37.2 430.8 L39.4 429.2 L40.9 431.5 L43.5 431.8 L43.1 434.8 Z" fill="#79ae2e"/>
<path d="M47.8 432.4 L46.2 434.4 L46.6 436.4 L43.7 436.4 L42.0 438.9 L40.2 436.8 L37.6 437.8 L38.2 435.7 L35.7 433.5 L36.8 431.7 L36.1 429.3 L37.7 428.9 L38.5 426.5 L40.0 427.0 L42.4 425.3 L43.9 427.9 L46.2 427.5 L46.4 430.9 Z" fill="#79ae2e"/>
<path d="M56.0 430.9 L53.7 432.4 L53.5 435.3 L50.8 434.5 L49.6 436.8 L48.4 435.1 L45.8 436.4 L45.2 433.0 L43.2 432.1 L43.9 430.8 L43.3 427.5 L45.2 427.4 L44.8 424.8 L48.7 425.2 L49.3 423.8 L51.8 426.7 L54.2 426.3 L53.8 428.9 Z" fill="#79ae2e"/>
<path d="M61.5 433.9 L60.3 435.5 L60.3 438.0 L57.1 438.8 L56.3 440.3 L54.7 439.1 L52.8 440.0 L51.4 437.7 L49.4 436.2 L50.0 434.1 L49.2 431.7 L51.4 431.8 L51.5 429.0 L54.1 429.2 L55.8 427.8 L57.3 430.1 L61.0 430.7 L59.2 432.2 Z" fill="#79ae2e"/>
<circle cx="47.3" cy="439.7" r="12.4" fill="#79ae2e"/>
<circle cx="47.3" cy="439.7" r="5.1" fill="none" stroke="#fff" stroke-width="1.9" stroke-dasharray="4.6 1.8"/>
<path d="M51.9 432.0 q4.6 6.1 -0.5 13.3" fill="none" stroke="#fff" stroke-width="1.2"/>
<circle cx="47.3" cy="439.7" r="1.6" fill="#fff"/>
<path d="M87.9 476.3 L85.8 477.7 L85.6 480.3 L83.2 479.6 L82.1 481.7 L80.9 480.1 L78.5 481.4 L77.9 478.2 L76.1 477.4 L76.7 476.2 L76.2 473.1 L77.9 473.1 L77.6 470.7 L81.2 471.1 L81.8 469.7 L84.0 472.4 L86.3 472.0 L85.9 474.5 Z" fill="#79ae2e"/>
<path d="M84.9 481.1 L83.8 482.6 L83.8 484.9 L80.9 485.6 L80.1 487.0 L78.7 485.8 L76.9 486.7 L75.6 484.6 L73.7 483.2 L74.3 481.3 L73.5 479.1 L75.6 479.2 L75.7 476.6 L78.1 476.7 L79.6 475.4 L81.1 477.6 L84.5 478.1 L82.8 479.5 Z" fill="#79ae2e"/>
<path d="M79.4 484.7 L77.7 486.0 L77.7 488.0 L75.1 488.3 L74.1 490.5 L73.0 489.0 L69.5 489.2 L70.2 487.4 L67.9 486.3 L69.0 483.9 L68.0 482.4 L70.0 481.4 L71.0 478.8 L72.8 479.9 L73.6 478.1 L74.9 480.5 L78.0 481.0 L77.3 482.7 Z" fill="#79ae2e"/>
<path d="M75.0 483.2 L73.0 485.5 L73.3 487.3 L70.6 487.9 L68.9 489.3 L67.9 488.2 L66.1 488.7 L65.2 486.1 L63.3 485.6 L64.5 483.7 L63.3 481.7 L65.4 480.3 L66.2 478.3 L67.5 478.8 L70.0 477.3 L71.0 479.2 L73.4 479.0 L73.1 482.0 Z" fill="#79ae2e"/>
<path d="M70.2 477.9 L68.2 479.1 L69.5 481.6 L66.7 481.5 L64.6 483.8 L63.7 482.8 L61.3 483.8 L60.4 480.9 L58.8 479.7 L59.7 477.7 L58.7 475.7 L61.0 475.0 L60.8 473.7 L63.8 473.7 L65.0 472.4 L66.1 474.3 L67.9 474.0 L68.7 476.9 Z" fill="#79ae2e"/>
<path d="M70.7 471.8 L68.5 473.2 L69.2 475.8 L67.0 475.1 L65.4 477.8 L63.6 476.1 L62.1 476.5 L61.7 474.5 L58.9 472.9 L60.5 472.0 L59.6 469.2 L61.4 468.5 L62.3 466.1 L63.7 467.3 L66.1 466.0 L67.3 467.5 L69.6 468.3 L69.1 469.9 Z" fill="#79ae2e"/>
<path d="M75.5 467.6 L73.3 469.5 L73.9 470.4 L71.3 471.7 L70.3 473.3 L69.0 471.9 L65.4 472.2 L65.8 470.4 L63.8 470.0 L65.0 466.8 L63.3 464.9 L65.9 464.3 L65.8 462.7 L68.8 462.9 L69.8 461.1 L71.2 463.1 L73.7 463.6 L73.2 466.3 Z" fill="#79ae2e"/>
<path d="M78.9 467.1 L77.2 468.3 L78.6 470.2 L75.9 470.4 L74.2 472.2 L73.0 471.0 L71.1 472.1 L69.7 469.0 L67.6 469.4 L69.0 466.8 L67.6 463.8 L69.9 463.5 L70.6 460.8 L72.9 462.0 L73.7 460.8 L75.1 462.6 L77.8 463.1 L77.7 465.4 Z" fill="#79ae2e"/>
<path d="M85.9 469.4 L83.7 471.2 L84.6 473.3 L82.5 473.8 L81.2 476.3 L79.3 474.7 L77.2 476.0 L76.7 473.2 L73.9 471.6 L74.8 470.0 L74.1 467.2 L76.3 466.9 L76.4 464.5 L78.3 465.5 L80.8 464.3 L81.5 466.2 L83.7 466.3 L84.0 468.7 Z" fill="#79ae2e"/>
<circle cx="72.6" cy="475.5" r="11.4" fill="#79ae2e"/>
<circle cx="72.6" cy="475.5" r="4.7" fill="none" stroke="#fff" stroke-width="1.7" stroke-dasharray="4.2 1.7"/>
<path d="M76.8 468.4 q4.2 5.7 -0.5 12.3" fill="none" stroke="#fff" stroke-width="1.1"/>
<circle cx="72.6" cy="475.5" r="1.4" fill="#fff"/>
<path d="M105.5 462.0 L98.5 464.5 L103.9 467.0 L97.3 466.8 L102.5 471.8 L96.0 468.4 L98.6 474.0 L93.2 469.5 L94.4 477.1 L91.2 469.5 L88.7 476.9 L89.3 469.8 L85.4 475.1 L87.5 468.3 L80.2 470.8 L85.1 465.9 L77.5 467.7 L84.9 463.9 L77.2 462.8 L84.9 462.2 L78.6 457.4 L85.2 459.9 L79.8 454.3 L87.1 458.1 L85.5 451.5 L88.9 457.1 L89.6 450.2 L91.3 456.5 L93.7 449.0 L93.7 456.6 L98.1 451.2 L95.5 458.1 L101.4 454.5 L97.9 459.7 L103.2 457.6 L98.2 462.0 Z" fill="#6c9e2a" stroke="#3c5a18" stroke-width="0.4"/>
<path d="M103.2 466.7 L97.6 466.9 L100.7 470.9 L96.1 468.4 L98.4 472.2 L93.9 469.9 L93.9 474.2 L91.2 471.3 L89.9 475.7 L89.5 470.9 L85.5 472.6 L86.4 469.0 L82.4 470.0 L84.4 467.4 L80.6 467.2 L83.4 465.4 L78.5 463.7 L83.2 462.5 L79.4 458.6 L84.3 460.1 L80.9 456.3 L85.5 457.1 L84.4 452.7 L88.9 456.0 L88.6 450.6 L91.0 455.5 L92.4 450.6 L93.2 455.4 L96.9 452.4 L95.7 456.4 L100.3 455.8 L98.1 458.3 L101.9 458.7 L98.9 460.6 L103.1 462.1 L99.1 463.7 Z" fill="#6c9e2a" stroke="#3c5a18" stroke-width="0.4"/>
<circle cx="91.3" cy="463.0" r="9.1" fill="#6c9e2a"/>
<path d="M231.6 461.3 L226.2 462.1 L229.5 467.3 L225.2 464.6 L225.8 470.2 L223.5 466.7 L223.0 471.6 L220.0 466.9 L216.4 470.0 L217.7 465.7 L212.9 466.9 L215.6 464.1 L211.4 462.8 L214.9 460.9 L210.4 459.3 L216.0 459.3 L212.9 455.5 L218.0 456.6 L218.2 450.9 L219.7 456.0 L221.0 451.1 L223.0 456.1 L225.8 452.3 L224.8 457.1 L229.2 456.9 L226.8 460.6 Z" fill="#79ae2e" stroke="#3c5a18" stroke-width="0.4"/>
<path d="M229.7 463.1 L225.9 463.9 L227.0 468.1 L223.8 466.2 L224.3 469.3 L221.4 467.4 L219.1 470.4 L218.7 466.4 L214.5 468.2 L216.7 464.8 L212.8 465.0 L215.0 462.1 L211.9 460.9 L215.7 460.0 L212.3 457.4 L217.2 457.2 L217.0 453.5 L218.5 455.8 L220.4 452.0 L222.0 456.2 L224.8 453.1 L224.6 457.4 L228.0 455.9 L226.1 458.5 L228.9 460.5 L226.4 461.8 Z" fill="#79ae2e" stroke="#3c5a18" stroke-width="0.4"/>
<circle cx="220.8" cy="461.4" r="6.1" fill="#79ae2e"/>
<path d="M254.9 461.1 L251.0 462.4 L254.3 466.5 L249.2 465.1 L250.5 470.2 L246.8 466.9 L245.5 471.5 L244.9 466.7 L241.2 470.2 L241.7 466.0 L237.9 469.3 L240.2 464.7 L235.5 462.9 L239.3 461.1 L234.7 459.8 L239.6 459.1 L237.2 453.7 L241.5 457.3 L241.7 451.6 L243.9 455.6 L247.1 451.7 L246.7 455.9 L250.9 452.7 L249.2 457.7 L253.0 456.0 L250.7 460.0 Z" fill="#79ae2e" stroke="#3c5a18" stroke-width="0.4"/>
<path d="M253.6 463.8 L249.5 464.6 L251.2 466.7 L248.2 465.6 L248.4 469.5 L244.8 467.3 L243.8 469.9 L242.6 466.3 L240.2 469.2 L240.8 464.6 L238.0 465.5 L239.8 461.8 L235.7 460.6 L239.6 460.4 L237.1 456.6 L240.9 457.8 L240.5 454.7 L243.5 455.6 L244.5 453.3 L246.5 455.6 L248.9 453.7 L249.0 457.1 L252.2 456.1 L250.1 458.7 L254.1 460.4 L251.1 461.5 Z" fill="#79ae2e" stroke="#3c5a18" stroke-width="0.4"/>
<circle cx="245.1" cy="461.4" r="6.1" fill="#79ae2e"/>
<path d="M278.4 461.7 L274.3 462.4 L278.0 466.8 L272.6 465.2 L274.5 469.1 L271.3 466.5 L271.3 470.8 L268.1 467.0 L266.0 471.3 L265.8 465.4 L260.6 467.8 L264.4 464.0 L259.2 462.7 L263.8 461.9 L259.2 458.1 L264.1 458.3 L260.9 454.1 L265.7 456.8 L266.1 451.4 L268.8 455.7 L270.6 452.1 L270.6 456.2 L273.7 452.8 L272.7 457.4 L278.0 457.1 L274.2 460.0 Z" fill="#79ae2e" stroke="#3c5a18" stroke-width="0.4"/>
<path d="M277.5 463.5 L274.0 463.8 L275.3 466.5 L272.0 465.8 L272.1 470.0 L270.0 467.1 L268.2 470.5 L266.5 466.2 L262.8 468.1 L265.0 465.3 L260.3 464.8 L263.7 462.8 L259.7 460.2 L263.8 460.3 L262.0 456.6 L264.6 457.3 L264.8 453.4 L267.7 455.6 L269.1 452.4 L270.1 456.2 L273.6 453.3 L272.4 456.7 L275.2 455.2 L274.1 459.3 L278.1 459.5 L274.7 461.2 Z" fill="#79ae2e" stroke="#3c5a18" stroke-width="0.4"/>
<circle cx="269.0" cy="461.4" r="6.1" fill="#79ae2e"/>
<path d="M303.1 460.2 L298.1 462.3 L301.8 466.8 L296.8 465.1 L299.3 469.0 L294.9 466.9 L293.8 472.0 L292.0 466.7 L288.0 471.1 L289.8 465.8 L284.9 468.1 L287.4 463.7 L282.6 463.9 L287.4 461.6 L281.8 459.9 L288.0 458.5 L285.6 453.9 L288.8 456.9 L288.9 451.1 L292.2 456.2 L294.2 450.9 L295.0 456.5 L298.6 452.8 L296.7 457.1 L301.3 457.6 L298.0 460.2 Z" fill="#79ae2e" stroke="#3c5a18" stroke-width="0.4"/>
<path d="M300.6 464.7 L297.7 464.6 L299.2 467.2 L295.7 466.7 L295.9 468.9 L293.2 467.4 L290.5 469.4 L289.7 466.4 L286.0 468.1 L288.2 465.6 L285.1 464.9 L287.4 462.4 L283.8 460.4 L287.3 460.3 L284.8 456.7 L288.6 457.8 L288.1 454.6 L290.6 455.7 L291.4 453.0 L293.9 456.1 L295.3 453.4 L296.3 456.9 L299.2 456.6 L297.4 458.9 L301.1 460.0 L298.3 462.1 Z" fill="#79ae2e" stroke="#3c5a18" stroke-width="0.4"/>
<circle cx="292.6" cy="461.4" r="6.1" fill="#79ae2e"/>
<path d="M326.5 461.2 L321.2 463.1 L324.8 465.2 L320.4 464.5 L322.7 469.3 L317.6 467.0 L317.7 471.3 L315.3 466.8 L313.4 471.8 L313.1 465.6 L309.8 468.4 L311.3 463.3 L305.5 463.7 L310.7 462.0 L305.6 458.9 L311.2 459.3 L308.7 455.6 L313.1 456.4 L312.7 452.6 L315.8 455.6 L317.8 451.6 L318.7 456.2 L322.2 453.1 L320.1 457.4 L325.8 457.2 L321.9 459.8 Z" fill="#79ae2e" stroke="#3c5a18" stroke-width="0.4"/>
<path d="M324.6 463.7 L321.0 464.2 L322.3 467.5 L319.6 465.9 L319.5 468.9 L316.9 467.5 L314.7 470.1 L313.2 466.7 L310.9 467.9 L311.8 464.8 L308.5 463.9 L310.5 462.6 L307.4 460.7 L311.1 459.5 L308.6 455.9 L311.9 457.9 L311.5 454.2 L314.6 456.2 L316.0 452.1 L317.9 455.6 L319.3 452.8 L320.1 457.1 L323.1 456.4 L321.3 459.5 L324.5 460.0 L321.5 461.7 Z" fill="#79ae2e" stroke="#3c5a18" stroke-width="0.4"/>
<circle cx="316.2" cy="461.4" r="6.1" fill="#79ae2e"/>
<path d="M350.4 460.8 L345.6 462.2 L348.9 464.9 L344.3 464.7 L346.6 469.8 L342.8 466.5 L342.4 471.8 L339.3 466.7 L335.6 470.9 L337.5 466.2 L331.7 468.2 L335.6 464.3 L329.4 463.3 L335.0 461.9 L330.7 458.5 L334.9 458.8 L332.8 454.0 L337.3 456.3 L337.2 451.4 L339.7 456.2 L342.6 450.8 L342.0 456.0 L345.0 452.4 L344.4 457.9 L349.6 456.2 L345.5 459.6 Z" fill="#79ae2e" stroke="#3c5a18" stroke-width="0.4"/>
<path d="M348.1 463.9 L344.8 464.5 L345.5 467.9 L342.7 466.2 L342.0 470.5 L341.1 467.2 L339.2 470.1 L337.6 466.1 L335.6 468.2 L336.1 465.4 L333.0 465.4 L334.7 462.1 L331.7 461.2 L335.1 459.3 L332.3 456.3 L336.4 457.4 L334.9 454.2 L338.1 456.2 L340.3 452.2 L340.9 455.9 L343.3 453.5 L343.5 457.2 L346.2 455.7 L345.3 458.8 L348.7 459.4 L346.1 462.1 Z" fill="#79ae2e" stroke="#3c5a18" stroke-width="0.4"/>
<circle cx="340.2" cy="461.4" r="6.1" fill="#79ae2e"/>
<path d="M243.0 478.4 L238.3 479.9 L242.9 483.5 L237.5 481.6 L238.2 486.6 L235.6 483.8 L233.0 488.5 L232.7 484.5 L229.7 488.4 L229.6 483.1 L223.9 484.9 L227.5 480.9 L222.5 480.2 L227.5 478.5 L222.1 476.4 L228.4 475.7 L226.2 471.0 L230.0 473.6 L229.0 469.3 L232.4 472.8 L234.6 467.8 L235.6 472.9 L239.6 469.4 L237.5 474.4 L243.0 474.1 L238.5 476.5 Z" fill="#79ae2e" stroke="#3c5a18" stroke-width="0.4"/>
<path d="M242.0 481.5 L238.2 481.4 L238.7 485.4 L235.8 483.7 L234.8 486.5 L233.9 484.6 L231.0 486.8 L230.5 483.3 L227.8 485.6 L228.9 482.1 L224.7 482.2 L227.2 479.7 L224.8 477.0 L227.7 477.1 L225.6 473.5 L229.0 474.5 L228.7 470.1 L231.1 472.6 L231.9 469.7 L234.6 473.1 L235.7 470.6 L237.0 473.7 L239.4 472.2 L238.1 475.9 L241.5 476.3 L239.2 478.2 Z" fill="#79ae2e" stroke="#3c5a18" stroke-width="0.4"/>
<circle cx="233.0" cy="478.4" r="6.2" fill="#79ae2e"/>
<path d="M267.5 477.8 L263.0 479.4 L266.7 482.7 L260.9 482.5 L262.2 487.9 L259.1 483.9 L258.1 488.5 L255.8 483.9 L252.0 488.1 L254.5 483.3 L249.0 485.7 L252.2 481.5 L246.6 481.3 L251.2 477.8 L246.4 476.6 L251.7 475.7 L248.8 471.1 L254.3 473.1 L254.0 467.9 L256.6 473.0 L259.5 468.4 L258.5 472.9 L262.6 470.1 L261.5 475.3 L266.8 474.5 L262.4 476.6 Z" fill="#79ae2e" stroke="#3c5a18" stroke-width="0.4"/>
<path d="M264.9 481.7 L262.0 481.5 L262.6 485.2 L260.2 483.4 L260.2 487.4 L256.9 484.4 L256.4 488.0 L254.6 483.8 L251.5 485.4 L252.4 481.4 L248.7 483.1 L251.7 479.7 L247.6 478.0 L251.9 477.0 L249.5 474.4 L252.2 474.6 L253.1 471.0 L254.9 472.6 L257.0 469.5 L258.3 472.3 L260.3 469.8 L260.1 473.4 L263.6 472.6 L262.3 475.9 L265.8 477.6 L263.2 478.0 Z" fill="#79ae2e" stroke="#3c5a18" stroke-width="0.4"/>
<circle cx="257.1" cy="478.4" r="6.2" fill="#79ae2e"/>
<path d="M314.1 479.5 L310.0 480.1 L313.0 484.1 L308.2 482.4 L309.3 487.5 L306.9 483.4 L305.4 488.0 L304.0 483.6 L302.0 487.9 L301.7 483.1 L296.4 484.7 L298.9 480.8 L293.5 480.0 L298.6 478.3 L294.6 475.0 L299.2 476.2 L297.2 471.8 L301.0 474.3 L301.1 468.0 L304.0 472.8 L304.6 468.8 L306.7 473.1 L310.0 470.2 L308.2 474.4 L313.4 472.7 L310.0 476.8 Z" fill="#79ae2e" stroke="#3c5a18" stroke-width="0.4"/>
<path d="M313.9 480.3 L309.9 481.1 L310.5 485.5 L307.7 483.1 L306.9 487.7 L304.6 484.2 L303.2 487.1 L301.9 483.5 L298.8 485.6 L300.2 481.6 L296.3 482.7 L298.5 479.4 L296.0 478.8 L298.7 476.6 L296.2 474.2 L300.4 474.5 L300.7 470.9 L303.4 472.9 L303.7 469.9 L305.5 472.4 L307.6 469.9 L307.9 473.9 L311.2 472.1 L309.7 475.9 L312.8 477.1 L310.6 479.2 Z" fill="#79ae2e" stroke="#3c5a18" stroke-width="0.4"/>
<circle cx="304.5" cy="478.4" r="6.2" fill="#79ae2e"/>
<path d="M339.1 478.7 L333.9 479.8 L336.8 484.2 L332.3 482.6 L332.9 486.8 L330.7 484.0 L328.7 488.4 L327.1 483.7 L324.8 488.2 L325.3 483.0 L320.1 485.4 L323.0 481.4 L318.5 479.6 L322.8 478.7 L318.3 475.5 L323.2 475.9 L320.5 470.7 L324.6 473.5 L323.9 469.2 L328.0 472.9 L328.4 468.8 L330.5 472.9 L333.0 469.3 L332.2 474.6 L336.8 473.1 L333.9 476.4 Z" fill="#79ae2e" stroke="#3c5a18" stroke-width="0.4"/>
<path d="M336.4 482.0 L333.1 481.4 L334.5 485.6 L331.1 483.1 L330.8 486.3 L328.3 484.7 L327.1 487.7 L326.0 484.2 L322.6 485.2 L324.2 482.3 L320.1 481.1 L322.3 479.3 L318.9 478.0 L322.3 477.2 L320.4 474.8 L324.4 474.3 L322.8 471.2 L326.7 473.2 L327.9 469.3 L328.4 472.5 L330.8 469.8 L331.7 474.0 L335.3 472.4 L333.2 475.6 L336.3 476.9 L333.6 479.3 Z" fill="#79ae2e" stroke="#3c5a18" stroke-width="0.4"/>
<circle cx="328.1" cy="478.4" r="6.2" fill="#79ae2e"/>
<path d="M419.8 470.6 L417.9 472.7 L419.9 475.0 L416.0 475.2 L417.7 478.9 L413.4 478.8 L414.9 481.3 L412.7 482.1 L412.7 483.8 L411.0 485.3 L409.0 486.7 L406.3 485.7 L405.8 488.3 L404.7 488.7 L402.6 489.5 L399.8 489.7 L398.8 492.4 L396.6 489.1 L394.6 492.0 L392.6 489.1 L390.5 488.5 L390.5 485.7 L388.2 486.5 L386.9 484.9 L384.0 485.7 L384.9 481.8 L381.3 481.4 L382.6 479.1 L380.8 477.5 L382.2 474.8 L377.2 474.3 L379.6 472.8 L377.7 470.6 L381.6 469.2 L376.9 466.5 L380.2 465.2 L378.4 461.5 L382.7 462.1 L380.7 458.5 L383.6 458.7 L383.4 454.8 L385.7 455.6 L387.0 454.1 L389.4 453.2 L389.9 450.3 L393.4 453.5 L394.5 451.4 L396.4 453.3 L398.7 448.3 L399.8 453.5 L403.1 450.3 L403.5 453.6 L406.9 450.5 L407.0 454.5 L410.2 451.9 L409.7 456.0 L412.4 457.0 L413.8 458.2 L416.4 458.6 L414.2 461.5 L418.3 461.7 L415.8 464.9 L419.9 466.8 L416.6 469.1 Z" fill="#79ae2e" stroke="#4f741f" stroke-width="0.4"/>
<path d="M398.5 470.4 L376.8 475.0 L376.9 465.4 Z" fill="#f5f5f5"/>
<path d="M398.5 470.4 L420.5 467.7 L420.1 475.4 Z" fill="#f5f5f5"/>
<path d="M398.5 470.4 L402.3 448.6 L407.5 450.2 Z" fill="#f5f5f5"/>
<ellipse cx="398.5" cy="472.0" rx="10.2" ry="6.8" fill="#fff"/>
<ellipse cx="392.2" cy="463.4" rx="3.7" ry="1.6" fill="#fff" transform="rotate(228 392.2 463.4)"/>
<ellipse cx="405.4" cy="462.2" rx="2.7" ry="1.6" fill="#fff" transform="rotate(-50 405.4 462.2)"/>
<path d="M398.5 470.4 L378.4 471.1" stroke="#6a9c28" stroke-width="0.9" fill="none"/>
<path d="M398.5 470.4 L418.4 473.2" stroke="#6a9c28" stroke-width="0.9" fill="none"/>
<path d="M398.5 470.4 L404.4 451.2" stroke="#6a9c28" stroke-width="0.9" fill="none"/>
<path d="M398.5 470.4 L380.3 461.9" stroke="#6a9c28" stroke-width="0.9" fill="none"/>
<path d="M398.5 470.4 L381.1 480.4" stroke="#6a9c28" stroke-width="0.9" fill="none"/>
<path d="M398.5 470.4 L387.0 486.9" stroke="#6a9c28" stroke-width="0.9" fill="none"/>
<path d="M398.5 470.4 L395.0 490.2" stroke="#6a9c28" stroke-width="0.9" fill="none"/>
<path d="M398.5 470.4 L403.7 489.8" stroke="#6a9c28" stroke-width="0.9" fill="none"/>
<path d="M398.5 470.4 L411.4 485.8" stroke="#6a9c28" stroke-width="0.9" fill="none"/>
<path d="M398.5 470.4 L386.1 454.6" stroke="#6a9c28" stroke-width="0.9" fill="none"/>
<path d="M398.5 470.4 L413.9 457.5" stroke="#6a9c28" stroke-width="0.9" fill="none"/>
<circle cx="398.5" cy="470.4" r="2.1" fill="#79ae2e"/>
<path d="M451.1 460.3 L449.5 461.4 L450.8 463.2 L448.4 463.3 L446.7 465.0 L445.6 463.9 L443.9 465.0 L442.6 462.1 L440.6 462.4 L441.9 460.0 L440.7 457.2 L442.8 457.0 L443.5 454.4 L445.6 455.6 L446.3 454.4 L447.6 456.1 L450.2 456.5 L450.1 458.7 Z" fill="#79ae2e"/>
<path d="M449.7 464.6 L447.7 466.2 L448.5 468.2 L446.5 468.7 L445.3 471.0 L443.6 469.5 L441.6 470.7 L441.1 468.2 L438.5 466.7 L439.4 465.1 L438.7 462.6 L440.8 462.2 L440.8 460.1 L442.6 461.0 L444.9 459.8 L445.6 461.6 L447.7 461.7 L447.9 463.9 Z" fill="#79ae2e"/>
<path d="M443.5 468.6 L441.9 469.9 L442.5 471.8 L440.2 471.6 L439.4 473.3 L437.3 472.1 L435.1 472.7 L435.2 470.5 L433.2 469.8 L433.8 468.0 L433.3 465.7 L435.0 465.3 L435.9 462.8 L437.3 463.6 L439.7 462.3 L439.9 464.2 L442.4 464.2 L441.9 466.5 Z" fill="#79ae2e"/>
<path d="M438.6 466.7 L436.9 467.7 L436.6 470.1 L434.7 470.1 L434.2 471.6 L432.3 470.5 L430.3 471.8 L429.6 469.6 L427.4 468.1 L428.5 466.4 L427.8 464.5 L429.0 464.0 L430.0 461.2 L432.3 462.5 L433.2 460.7 L434.7 462.6 L436.3 462.6 L436.3 464.5 Z" fill="#79ae2e"/>
<path d="M435.3 461.5 L433.5 463.7 L434.1 465.5 L432.2 464.9 L431.1 467.2 L429.1 466.1 L426.5 466.1 L426.7 464.3 L424.8 464.3 L425.6 461.7 L424.5 460.5 L426.5 459.4 L427.2 457.1 L428.5 457.4 L431.4 456.4 L431.8 458.3 L434.3 458.5 L433.6 459.8 Z" fill="#79ae2e"/>
<path d="M435.4 458.0 L433.8 458.6 L434.1 460.5 L432.4 460.5 L431.1 462.9 L429.4 461.6 L427.1 461.7 L427.0 460.2 L424.7 458.5 L425.5 457.0 L424.0 455.9 L426.3 454.9 L426.8 452.4 L428.7 453.1 L430.2 452.0 L431.7 453.6 L434.1 453.7 L433.6 456.3 Z" fill="#79ae2e"/>
<path d="M440.4 452.9 L438.4 453.8 L438.5 455.6 L437.1 455.7 L435.0 457.5 L433.5 456.3 L432.4 457.0 L431.6 454.8 L429.7 454.7 L430.6 451.7 L429.0 450.2 L431.1 449.4 L432.0 447.2 L433.3 448.2 L436.0 447.0 L436.8 448.3 L438.9 449.2 L438.7 450.9 Z" fill="#79ae2e"/>
<path d="M444.5 451.1 L443.1 453.1 L442.8 455.9 L440.6 455.7 L439.4 457.6 L437.9 455.7 L436.0 456.2 L435.8 454.5 L433.5 453.3 L434.5 451.5 L433.6 450.3 L435.3 449.3 L436.1 446.7 L438.3 447.3 L439.4 446.0 L440.5 447.9 L442.8 448.1 L443.1 450.0 Z" fill="#79ae2e"/>
<path d="M449.3 454.8 L447.3 455.7 L448.1 457.7 L446.0 457.7 L444.4 460.0 L443.4 458.4 L441.2 458.9 L440.0 456.4 L438.8 456.0 L439.9 453.6 L438.7 452.8 L440.5 451.0 L441.5 449.3 L442.9 449.8 L445.1 448.8 L445.7 450.8 L448.1 451.3 L447.4 452.4 Z" fill="#79ae2e"/>
<circle cx="437.7" cy="459.8" r="10.6" fill="#79ae2e"/>
<circle cx="437.7" cy="459.8" r="4.4" fill="none" stroke="#fff" stroke-width="1.6" stroke-dasharray="4.0 1.5"/>
<path d="M441.7 453.2 q4.0 5.3 -0.4 11.4" fill="none" stroke="#fff" stroke-width="1.1"/>
<circle cx="437.7" cy="459.8" r="1.3" fill="#fff"/>
<path d="M429.1 490.8 L425.7 491.8 L427.3 494.8 L424.2 493.2 L423.1 496.6 L422.8 493.0 L419.6 495.3 L421.5 492.1 L418.2 491.3 L421.4 490.1 L419.6 487.1 L422.7 488.9 L423.1 485.7 L424.2 488.9 L427.1 487.1 L425.6 490.0 Z" fill="#9cc26a"/>
<line x1="343.5" y1="67.8" x2="343.5" y2="107.8" stroke="#333" stroke-width="0.7"/>
<line x1="621.5" y1="68.2" x2="621.5" y2="107.7" stroke="#333" stroke-width="0.7"/>
<line x1="194.5" y1="202.5" x2="225.4" y2="202.5" stroke="#333" stroke-width="0.7"/>
<line x1="194.5" y1="418.5" x2="226.0" y2="418.5" stroke="#333" stroke-width="0.7"/>
<line x1="285.5" y1="422.5" x2="285.5" y2="461.5" stroke="#333" stroke-width="0.7"/>
<line x1="423.5" y1="422.5" x2="423.5" y2="461.5" stroke="#333" stroke-width="0.7"/>
<line x1="539.5" y1="422.5" x2="539.5" y2="461.5" stroke="#333" stroke-width="0.7"/>
<line x1="655.5" y1="422.3" x2="655.5" y2="460.5" stroke="#333" stroke-width="0.7"/>
<line x1="722.0" y1="264.5" x2="759.5" y2="264.5" stroke="#333" stroke-width="0.7"/>
<circle cx="343.8" cy="54.4" r="13.7" fill="#e5e7e7" stroke="#2a2a2a" stroke-width="0.85"/>
<line x1="330.1" y1="54.5" x2="357.5" y2="54.5" stroke="#333" stroke-width="0.6"/>
<text transform="translate(342.9,53.0) scale(0.86,1)" font-size="9.5" fill="#111" text-anchor="middle" font-style="italic" font-weight="normal">280</text>
<text transform="translate(342.9,62.8) scale(0.86,1)" font-size="9.5" fill="#111" text-anchor="middle" font-style="italic" font-weight="normal">140</text>
<circle cx="621.5" cy="54.4" r="13.7" fill="#e5e7e7" stroke="#2a2a2a" stroke-width="0.85"/>
<line x1="607.8" y1="54.5" x2="635.2" y2="54.5" stroke="#333" stroke-width="0.6"/>
<text transform="translate(620.6,53.0) scale(0.86,1)" font-size="9.5" fill="#111" text-anchor="middle" font-style="italic" font-weight="normal">150</text>
<text transform="translate(620.6,62.8) scale(0.86,1)" font-size="9.5" fill="#111" text-anchor="middle" font-style="italic" font-weight="normal">140</text>
<circle cx="180.8" cy="202.3" r="13.7" fill="#e5e7e7" stroke="#2a2a2a" stroke-width="0.85"/>
<line x1="167.1" y1="202.5" x2="194.5" y2="202.5" stroke="#333" stroke-width="0.6"/>
<text transform="translate(179.9,200.9) scale(0.86,1)" font-size="9.5" fill="#111" text-anchor="middle" font-style="italic" font-weight="normal">458</text>
<text transform="translate(179.9,210.7) scale(0.86,1)" font-size="9.5" fill="#111" text-anchor="middle" font-style="italic" font-weight="normal">230</text>
<circle cx="180.8" cy="417.9" r="13.7" fill="#e5e7e7" stroke="#2a2a2a" stroke-width="0.85"/>
<line x1="167.1" y1="417.5" x2="194.5" y2="417.5" stroke="#333" stroke-width="0.6"/>
<text transform="translate(179.9,416.5) scale(0.86,1)" font-size="9.5" fill="#111" text-anchor="middle" font-style="italic" font-weight="normal">103</text>
<text transform="translate(179.9,426.3) scale(0.86,1)" font-size="9.5" fill="#111" text-anchor="middle" font-style="italic" font-weight="normal">230</text>
<circle cx="285.2" cy="475.6" r="13.7" fill="#e5e7e7" stroke="#2a2a2a" stroke-width="0.85"/>
<line x1="271.5" y1="475.5" x2="298.9" y2="475.5" stroke="#333" stroke-width="0.6"/>
<text transform="translate(284.3,474.2) scale(0.86,1)" font-size="9.5" fill="#111" text-anchor="middle" font-style="italic" font-weight="normal">324</text>
<text transform="translate(284.3,484.0) scale(0.86,1)" font-size="9.5" fill="#111" text-anchor="middle" font-style="italic" font-weight="normal">230</text>
<circle cx="423.8" cy="474.7" r="13.7" fill="#e5e7e7" stroke="#2a2a2a" stroke-width="0.85"/>
<line x1="410.1" y1="474.5" x2="437.5" y2="474.5" stroke="#333" stroke-width="0.6"/>
<text transform="translate(422.9,473.3) scale(0.86,1)" font-size="9.5" fill="#111" text-anchor="middle" font-style="italic" font-weight="normal">110</text>
<text transform="translate(422.9,483.1) scale(0.86,1)" font-size="9.5" fill="#111" text-anchor="middle" font-style="italic" font-weight="normal">230</text>
<circle cx="539.5" cy="475.0" r="13.7" fill="#e5e7e7" stroke="#2a2a2a" stroke-width="0.85"/>
<line x1="525.8" y1="475.5" x2="553.2" y2="475.5" stroke="#333" stroke-width="0.6"/>
<text transform="translate(538.6,473.6) scale(0.86,1)" font-size="9.5" fill="#111" text-anchor="middle" font-style="italic" font-weight="normal">105</text>
<text transform="translate(538.6,483.4) scale(0.86,1)" font-size="9.5" fill="#111" text-anchor="middle" font-style="italic" font-weight="normal">210</text>
<circle cx="655.8" cy="474.3" r="13.7" fill="#e5e7e7" stroke="#2a2a2a" stroke-width="0.85"/>
<line x1="642.1" y1="474.5" x2="669.5" y2="474.5" stroke="#333" stroke-width="0.6"/>
<text transform="translate(654.9,472.9) scale(0.86,1)" font-size="9.5" fill="#111" text-anchor="middle" font-style="italic" font-weight="normal">110</text>
<text transform="translate(654.9,482.7) scale(0.86,1)" font-size="9.5" fill="#111" text-anchor="middle" font-style="italic" font-weight="normal">230</text>
<circle cx="772.9" cy="264.5" r="13.7" fill="#e5e7e7" stroke="#2a2a2a" stroke-width="0.85"/>
<line x1="759.2" y1="264.5" x2="786.6" y2="264.5" stroke="#333" stroke-width="0.6"/>
<text transform="translate(772.0,263.1) scale(0.86,1)" font-size="9.5" fill="#111" text-anchor="middle" font-style="italic" font-weight="normal">80</text>
<text transform="translate(772.0,272.9) scale(0.86,1)" font-size="9.5" fill="#111" text-anchor="middle" font-style="italic" font-weight="normal">140</text>
</svg></body></html>
